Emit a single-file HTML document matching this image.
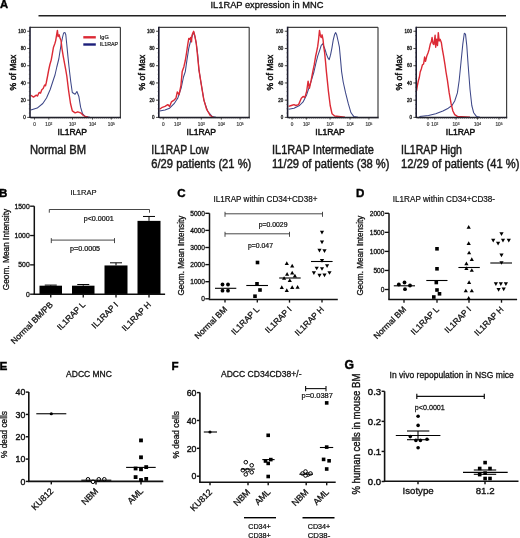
<!DOCTYPE html>
<html><head><meta charset="utf-8"><style>
html,body{margin:0;padding:0;background:#fff;}
body{width:520px;height:538px;overflow:hidden;}
svg{display:block;font-family:"Liberation Sans", sans-serif;will-change:transform;}
</style></head><body>
<svg width="520" height="538" viewBox="0 0 520 538">
<rect width="520" height="538" fill="#fff"/>
<text x="0" y="8.2" font-size="11.2" text-anchor="start" font-weight="bold" fill="#000" stroke="#000" stroke-width="0.381" >A</text>
<text x="267" y="7.6" font-size="9.6" text-anchor="middle" font-weight="normal" fill="#111" stroke="#111" stroke-width="0.326" textLength="113" lengthAdjust="spacingAndGlyphs" >IL1RAP expression in MNC</text>
<line x1="38.5" y1="15.8" x2="506" y2="15.8" stroke="#222" stroke-width="1.4"/>
<polyline points="30.8,110.0 37.2,108.1 42.8,103.5 46.5,98.0 50.2,89.5 53.8,78.5 55.0,75.0 56.8,67.0 58.8,59.0 60.2,50.0 61.2,44.0 62.5,37.5 63.6,33.0 65.0,32.6 65.8,34.8 66.7,43.7 67.9,56.1 68.9,65.8 69.6,72.0 70.8,82.0 72.3,92.5 75.1,94.3 76.9,91.5 78.8,96.2 80.6,107.2 82.5,113.7 85.2,116.5 90.0,117.2" fill="none" stroke="#3d4788" stroke-width="1.05" stroke-linejoin="round"/>
<polyline points="30.8,95.2 33.5,97.1 36.3,95.2 37.5,96.0 39.1,92.5 40.5,93.2 41.8,89.7 43.2,88.5 44.6,85.1 45.5,85.8 46.3,82.5 47.5,76.5 48.7,70.0 49.9,64.5 51.2,60.1 52.1,55.2 53.5,47.2 54.8,43.7 55.7,40.6 56.5,35.7 57.4,30.4 58.1,36.6 59.2,34.8 60.1,38.4 61.0,40.2 61.9,48.1 63.2,56.1 64.5,63.2 65.8,70.2 66.8,76.0 68.6,90.6 70.5,103.5 72.3,110.9 75.1,112.8 77.8,111.8 80.6,112.8 83.4,115.5 85.2,116.5 88.0,117.2" fill="none" stroke="#dc2a35" stroke-width="1.4" stroke-linejoin="round"/>
<line x1="30.0" y1="27.3" x2="120.4" y2="27.3" stroke="#404040" stroke-width="1.2"/>
<line x1="120.4" y1="27.3" x2="120.4" y2="117.4" stroke="#404040" stroke-width="1.2"/>
<line x1="30.0" y1="26.7" x2="30.0" y2="118.10000000000001" stroke="#1c1c30" stroke-width="1.6"/>
<line x1="30.0" y1="117.4" x2="121.0" y2="117.4" stroke="#1c1c28" stroke-width="1.5"/>
<line x1="27.2" y1="31.25" x2="30.0" y2="31.25" stroke="#222" stroke-width="0.8"/>
<text x="25.7" y="32.85" font-size="4.5" text-anchor="end" font-weight="normal" fill="#222" stroke="#222" stroke-width="0.3" >100</text>
<line x1="27.2" y1="48.480000000000004" x2="30.0" y2="48.480000000000004" stroke="#222" stroke-width="0.8"/>
<text x="25.7" y="50.080000000000005" font-size="4.5" text-anchor="end" font-weight="normal" fill="#222" stroke="#222" stroke-width="0.3" >80</text>
<line x1="27.2" y1="65.71000000000001" x2="30.0" y2="65.71000000000001" stroke="#222" stroke-width="0.8"/>
<text x="25.7" y="67.31" font-size="4.5" text-anchor="end" font-weight="normal" fill="#222" stroke="#222" stroke-width="0.3" >60</text>
<line x1="27.2" y1="82.94" x2="30.0" y2="82.94" stroke="#222" stroke-width="0.8"/>
<text x="25.7" y="84.53999999999999" font-size="4.5" text-anchor="end" font-weight="normal" fill="#222" stroke="#222" stroke-width="0.3" >40</text>
<line x1="27.2" y1="100.17" x2="30.0" y2="100.17" stroke="#222" stroke-width="0.8"/>
<text x="25.7" y="101.77" font-size="4.5" text-anchor="end" font-weight="normal" fill="#222" stroke="#222" stroke-width="0.3" >20</text>
<line x1="27.2" y1="117.4" x2="30.0" y2="117.4" stroke="#222" stroke-width="0.8"/>
<text x="25.7" y="119.0" font-size="4.5" text-anchor="end" font-weight="normal" fill="#222" stroke="#222" stroke-width="0.3" >0</text>
<line x1="28.8" y1="117.4" x2="30.0" y2="117.4" stroke="#333" stroke-width="0.5"/>
<line x1="28.8" y1="113.0925" x2="30.0" y2="113.0925" stroke="#333" stroke-width="0.5"/>
<line x1="28.8" y1="108.78500000000001" x2="30.0" y2="108.78500000000001" stroke="#333" stroke-width="0.5"/>
<line x1="28.8" y1="104.4775" x2="30.0" y2="104.4775" stroke="#333" stroke-width="0.5"/>
<line x1="28.8" y1="100.17" x2="30.0" y2="100.17" stroke="#333" stroke-width="0.5"/>
<line x1="28.8" y1="95.86250000000001" x2="30.0" y2="95.86250000000001" stroke="#333" stroke-width="0.5"/>
<line x1="28.8" y1="91.555" x2="30.0" y2="91.555" stroke="#333" stroke-width="0.5"/>
<line x1="28.8" y1="87.2475" x2="30.0" y2="87.2475" stroke="#333" stroke-width="0.5"/>
<line x1="28.8" y1="82.94" x2="30.0" y2="82.94" stroke="#333" stroke-width="0.5"/>
<line x1="28.8" y1="78.63250000000001" x2="30.0" y2="78.63250000000001" stroke="#333" stroke-width="0.5"/>
<line x1="28.8" y1="74.325" x2="30.0" y2="74.325" stroke="#333" stroke-width="0.5"/>
<line x1="28.8" y1="70.0175" x2="30.0" y2="70.0175" stroke="#333" stroke-width="0.5"/>
<line x1="28.8" y1="65.71" x2="30.0" y2="65.71" stroke="#333" stroke-width="0.5"/>
<line x1="28.8" y1="61.4025" x2="30.0" y2="61.4025" stroke="#333" stroke-width="0.5"/>
<line x1="28.8" y1="57.095" x2="30.0" y2="57.095" stroke="#333" stroke-width="0.5"/>
<line x1="28.8" y1="52.78750000000001" x2="30.0" y2="52.78750000000001" stroke="#333" stroke-width="0.5"/>
<line x1="28.8" y1="48.480000000000004" x2="30.0" y2="48.480000000000004" stroke="#333" stroke-width="0.5"/>
<line x1="28.8" y1="44.1725" x2="30.0" y2="44.1725" stroke="#333" stroke-width="0.5"/>
<line x1="28.8" y1="39.86500000000001" x2="30.0" y2="39.86500000000001" stroke="#333" stroke-width="0.5"/>
<line x1="28.8" y1="35.557500000000005" x2="30.0" y2="35.557500000000005" stroke="#333" stroke-width="0.5"/>
<line x1="28.8" y1="31.25" x2="30.0" y2="31.25" stroke="#333" stroke-width="0.5"/>
<line x1="34.5" y1="117.4" x2="34.5" y2="119.60000000000001" stroke="#222" stroke-width="0.8"/>
<text x="34.5" y="126.4" font-size="4.7" text-anchor="middle" font-weight="normal" fill="#444" stroke="#444" stroke-width="0.2" >0</text>
<line x1="48.8" y1="117.4" x2="48.8" y2="119.60000000000001" stroke="#222" stroke-width="0.8"/>
<text x="48.8" y="126.4" font-size="4.7" text-anchor="middle" font-weight="normal" fill="#444" stroke="#444" stroke-width="0.2" >10<tspan dy="-1.5" font-size="3.2">2</tspan></text>
<line x1="72.5" y1="117.4" x2="72.5" y2="119.60000000000001" stroke="#222" stroke-width="0.8"/>
<text x="72.5" y="126.4" font-size="4.7" text-anchor="middle" font-weight="normal" fill="#444" stroke="#444" stroke-width="0.2" >10<tspan dy="-1.5" font-size="3.2">3</tspan></text>
<line x1="92.5" y1="117.4" x2="92.5" y2="119.60000000000001" stroke="#222" stroke-width="0.8"/>
<text x="92.5" y="126.4" font-size="4.7" text-anchor="middle" font-weight="normal" fill="#444" stroke="#444" stroke-width="0.2" >10<tspan dy="-1.5" font-size="3.2">4</tspan></text>
<line x1="111.3" y1="117.4" x2="111.3" y2="119.60000000000001" stroke="#222" stroke-width="0.8"/>
<text x="111.3" y="126.4" font-size="4.7" text-anchor="middle" font-weight="normal" fill="#444" stroke="#444" stroke-width="0.2" >10<tspan dy="-1.5" font-size="3.2">5</tspan></text>
<line x1="32.0" y1="117.4" x2="32.0" y2="119.0" stroke="#444" stroke-width="0.5"/>
<line x1="34.00909090909091" y1="117.4" x2="34.00909090909091" y2="119.0" stroke="#444" stroke-width="0.5"/>
<line x1="36.018181818181816" y1="117.4" x2="36.018181818181816" y2="119.0" stroke="#444" stroke-width="0.5"/>
<line x1="38.02727272727273" y1="117.4" x2="38.02727272727273" y2="119.0" stroke="#444" stroke-width="0.5"/>
<line x1="40.03636363636364" y1="117.4" x2="40.03636363636364" y2="119.0" stroke="#444" stroke-width="0.5"/>
<line x1="42.04545454545455" y1="117.4" x2="42.04545454545455" y2="119.0" stroke="#444" stroke-width="0.5"/>
<line x1="44.054545454545455" y1="117.4" x2="44.054545454545455" y2="119.0" stroke="#444" stroke-width="0.5"/>
<line x1="46.06363636363636" y1="117.4" x2="46.06363636363636" y2="119.0" stroke="#444" stroke-width="0.5"/>
<line x1="48.07272727272728" y1="117.4" x2="48.07272727272728" y2="119.0" stroke="#444" stroke-width="0.5"/>
<line x1="50.08181818181818" y1="117.4" x2="50.08181818181818" y2="119.0" stroke="#444" stroke-width="0.5"/>
<line x1="52.09090909090909" y1="117.4" x2="52.09090909090909" y2="119.0" stroke="#444" stroke-width="0.5"/>
<line x1="54.1" y1="117.4" x2="54.1" y2="119.0" stroke="#444" stroke-width="0.5"/>
<line x1="56.10909090909091" y1="117.4" x2="56.10909090909091" y2="119.0" stroke="#444" stroke-width="0.5"/>
<line x1="58.118181818181824" y1="117.4" x2="58.118181818181824" y2="119.0" stroke="#444" stroke-width="0.5"/>
<line x1="60.127272727272725" y1="117.4" x2="60.127272727272725" y2="119.0" stroke="#444" stroke-width="0.5"/>
<line x1="62.13636363636364" y1="117.4" x2="62.13636363636364" y2="119.0" stroke="#444" stroke-width="0.5"/>
<line x1="64.14545454545456" y1="117.4" x2="64.14545454545456" y2="119.0" stroke="#444" stroke-width="0.5"/>
<line x1="66.15454545454546" y1="117.4" x2="66.15454545454546" y2="119.0" stroke="#444" stroke-width="0.5"/>
<line x1="68.16363636363636" y1="117.4" x2="68.16363636363636" y2="119.0" stroke="#444" stroke-width="0.5"/>
<line x1="70.17272727272729" y1="117.4" x2="70.17272727272729" y2="119.0" stroke="#444" stroke-width="0.5"/>
<line x1="72.18181818181819" y1="117.4" x2="72.18181818181819" y2="119.0" stroke="#444" stroke-width="0.5"/>
<line x1="74.19090909090909" y1="117.4" x2="74.19090909090909" y2="119.0" stroke="#444" stroke-width="0.5"/>
<line x1="76.2" y1="117.4" x2="76.2" y2="119.0" stroke="#444" stroke-width="0.5"/>
<line x1="78.20909090909092" y1="117.4" x2="78.20909090909092" y2="119.0" stroke="#444" stroke-width="0.5"/>
<line x1="80.21818181818182" y1="117.4" x2="80.21818181818182" y2="119.0" stroke="#444" stroke-width="0.5"/>
<line x1="82.22727272727272" y1="117.4" x2="82.22727272727272" y2="119.0" stroke="#444" stroke-width="0.5"/>
<line x1="84.23636363636365" y1="117.4" x2="84.23636363636365" y2="119.0" stroke="#444" stroke-width="0.5"/>
<line x1="86.24545454545455" y1="117.4" x2="86.24545454545455" y2="119.0" stroke="#444" stroke-width="0.5"/>
<line x1="88.25454545454545" y1="117.4" x2="88.25454545454545" y2="119.0" stroke="#444" stroke-width="0.5"/>
<line x1="90.26363636363638" y1="117.4" x2="90.26363636363638" y2="119.0" stroke="#444" stroke-width="0.5"/>
<line x1="92.27272727272728" y1="117.4" x2="92.27272727272728" y2="119.0" stroke="#444" stroke-width="0.5"/>
<line x1="94.28181818181818" y1="117.4" x2="94.28181818181818" y2="119.0" stroke="#444" stroke-width="0.5"/>
<line x1="96.2909090909091" y1="117.4" x2="96.2909090909091" y2="119.0" stroke="#444" stroke-width="0.5"/>
<line x1="98.30000000000001" y1="117.4" x2="98.30000000000001" y2="119.0" stroke="#444" stroke-width="0.5"/>
<line x1="100.30909090909091" y1="117.4" x2="100.30909090909091" y2="119.0" stroke="#444" stroke-width="0.5"/>
<line x1="102.31818181818181" y1="117.4" x2="102.31818181818181" y2="119.0" stroke="#444" stroke-width="0.5"/>
<line x1="104.32727272727273" y1="117.4" x2="104.32727272727273" y2="119.0" stroke="#444" stroke-width="0.5"/>
<line x1="106.33636363636364" y1="117.4" x2="106.33636363636364" y2="119.0" stroke="#444" stroke-width="0.5"/>
<line x1="108.34545454545456" y1="117.4" x2="108.34545454545456" y2="119.0" stroke="#444" stroke-width="0.5"/>
<line x1="110.35454545454546" y1="117.4" x2="110.35454545454546" y2="119.0" stroke="#444" stroke-width="0.5"/>
<line x1="112.36363636363636" y1="117.4" x2="112.36363636363636" y2="119.0" stroke="#444" stroke-width="0.5"/>
<line x1="114.37272727272727" y1="117.4" x2="114.37272727272727" y2="119.0" stroke="#444" stroke-width="0.5"/>
<line x1="116.38181818181819" y1="117.4" x2="116.38181818181819" y2="119.0" stroke="#444" stroke-width="0.5"/>
<line x1="118.39090909090909" y1="117.4" x2="118.39090909090909" y2="119.0" stroke="#444" stroke-width="0.5"/>
<line x1="120.4" y1="117.4" x2="120.4" y2="119.0" stroke="#444" stroke-width="0.5"/>
<text x="12.7" y="72.5" font-size="8.6" text-anchor="middle" fill="#111" stroke="#111" stroke-width="0.45" transform="rotate(-90 12.7 72.5)" dy="3">% of Max</text>
<text x="72.25" y="134.5" font-size="9.3" text-anchor="middle" font-weight="normal" fill="#111" stroke="#111" stroke-width="0.5" textLength="29.5" lengthAdjust="spacingAndGlyphs" >IL1RAP</text>
<text x="30" y="154.0" font-size="12.0" text-anchor="start" font-weight="normal" fill="#1a1a1a" stroke="#1a1a1a" stroke-width="0.45" textLength="56" lengthAdjust="spacingAndGlyphs" >Normal BM</text>
<polyline points="159.6,111.0 165.0,110.1 169.6,108.2 174.1,103.7 177.7,98.3 181.3,87.5 183.5,77.0 185.3,71.6 187.0,59.6 188.8,48.1 190.6,41.0 192.4,35.7 193.7,32.2 195.0,36.6 196.3,43.7 197.7,54.3 199.0,70.2 201.2,84.0 203.9,100.1 207.5,111.0 212.0,116.4 216.0,117.2" fill="none" stroke="#3d4788" stroke-width="1.05" stroke-linejoin="round"/>
<polyline points="159.6,109.2 162.3,107.3 165.0,106.4 167.8,104.6 169.6,106.4 171.4,101.9 174.1,100.1 175.9,98.3 177.3,92.0 179.1,94.7 180.9,85.7 182.2,71.6 183.9,66.7 185.3,60.5 186.6,52.5 187.9,43.7 188.8,38.4 189.7,39.3 190.6,37.5 191.5,41.9 191.9,35.7 192.8,33.1 193.7,31.3 194.6,34.8 195.5,39.3 196.3,43.7 197.2,52.5 198.1,61.4 199.0,70.2 200.3,78.4 202.1,89.3 203.9,100.1 206.6,109.2 210.2,115.5 213.0,117.2" fill="none" stroke="#dc2a35" stroke-width="1.4" stroke-linejoin="round"/>
<line x1="158.8" y1="27.3" x2="249.20000000000002" y2="27.3" stroke="#404040" stroke-width="1.2"/>
<line x1="249.20000000000002" y1="27.3" x2="249.20000000000002" y2="117.4" stroke="#404040" stroke-width="1.2"/>
<line x1="158.8" y1="26.7" x2="158.8" y2="118.10000000000001" stroke="#1c1c30" stroke-width="1.6"/>
<line x1="158.8" y1="117.4" x2="249.8" y2="117.4" stroke="#1c1c28" stroke-width="1.5"/>
<line x1="156.0" y1="31.25" x2="158.8" y2="31.25" stroke="#222" stroke-width="0.8"/>
<text x="154.5" y="32.85" font-size="4.5" text-anchor="end" font-weight="normal" fill="#222" stroke="#222" stroke-width="0.3" >100</text>
<line x1="156.0" y1="48.480000000000004" x2="158.8" y2="48.480000000000004" stroke="#222" stroke-width="0.8"/>
<text x="154.5" y="50.080000000000005" font-size="4.5" text-anchor="end" font-weight="normal" fill="#222" stroke="#222" stroke-width="0.3" >80</text>
<line x1="156.0" y1="65.71000000000001" x2="158.8" y2="65.71000000000001" stroke="#222" stroke-width="0.8"/>
<text x="154.5" y="67.31" font-size="4.5" text-anchor="end" font-weight="normal" fill="#222" stroke="#222" stroke-width="0.3" >60</text>
<line x1="156.0" y1="82.94" x2="158.8" y2="82.94" stroke="#222" stroke-width="0.8"/>
<text x="154.5" y="84.53999999999999" font-size="4.5" text-anchor="end" font-weight="normal" fill="#222" stroke="#222" stroke-width="0.3" >40</text>
<line x1="156.0" y1="100.17" x2="158.8" y2="100.17" stroke="#222" stroke-width="0.8"/>
<text x="154.5" y="101.77" font-size="4.5" text-anchor="end" font-weight="normal" fill="#222" stroke="#222" stroke-width="0.3" >20</text>
<line x1="156.0" y1="117.4" x2="158.8" y2="117.4" stroke="#222" stroke-width="0.8"/>
<text x="154.5" y="119.0" font-size="4.5" text-anchor="end" font-weight="normal" fill="#222" stroke="#222" stroke-width="0.3" >0</text>
<line x1="157.60000000000002" y1="117.4" x2="158.8" y2="117.4" stroke="#333" stroke-width="0.5"/>
<line x1="157.60000000000002" y1="113.0925" x2="158.8" y2="113.0925" stroke="#333" stroke-width="0.5"/>
<line x1="157.60000000000002" y1="108.78500000000001" x2="158.8" y2="108.78500000000001" stroke="#333" stroke-width="0.5"/>
<line x1="157.60000000000002" y1="104.4775" x2="158.8" y2="104.4775" stroke="#333" stroke-width="0.5"/>
<line x1="157.60000000000002" y1="100.17" x2="158.8" y2="100.17" stroke="#333" stroke-width="0.5"/>
<line x1="157.60000000000002" y1="95.86250000000001" x2="158.8" y2="95.86250000000001" stroke="#333" stroke-width="0.5"/>
<line x1="157.60000000000002" y1="91.555" x2="158.8" y2="91.555" stroke="#333" stroke-width="0.5"/>
<line x1="157.60000000000002" y1="87.2475" x2="158.8" y2="87.2475" stroke="#333" stroke-width="0.5"/>
<line x1="157.60000000000002" y1="82.94" x2="158.8" y2="82.94" stroke="#333" stroke-width="0.5"/>
<line x1="157.60000000000002" y1="78.63250000000001" x2="158.8" y2="78.63250000000001" stroke="#333" stroke-width="0.5"/>
<line x1="157.60000000000002" y1="74.325" x2="158.8" y2="74.325" stroke="#333" stroke-width="0.5"/>
<line x1="157.60000000000002" y1="70.0175" x2="158.8" y2="70.0175" stroke="#333" stroke-width="0.5"/>
<line x1="157.60000000000002" y1="65.71" x2="158.8" y2="65.71" stroke="#333" stroke-width="0.5"/>
<line x1="157.60000000000002" y1="61.4025" x2="158.8" y2="61.4025" stroke="#333" stroke-width="0.5"/>
<line x1="157.60000000000002" y1="57.095" x2="158.8" y2="57.095" stroke="#333" stroke-width="0.5"/>
<line x1="157.60000000000002" y1="52.78750000000001" x2="158.8" y2="52.78750000000001" stroke="#333" stroke-width="0.5"/>
<line x1="157.60000000000002" y1="48.480000000000004" x2="158.8" y2="48.480000000000004" stroke="#333" stroke-width="0.5"/>
<line x1="157.60000000000002" y1="44.1725" x2="158.8" y2="44.1725" stroke="#333" stroke-width="0.5"/>
<line x1="157.60000000000002" y1="39.86500000000001" x2="158.8" y2="39.86500000000001" stroke="#333" stroke-width="0.5"/>
<line x1="157.60000000000002" y1="35.557500000000005" x2="158.8" y2="35.557500000000005" stroke="#333" stroke-width="0.5"/>
<line x1="157.60000000000002" y1="31.25" x2="158.8" y2="31.25" stroke="#333" stroke-width="0.5"/>
<line x1="163.3" y1="117.4" x2="163.3" y2="119.60000000000001" stroke="#222" stroke-width="0.8"/>
<text x="163.3" y="126.4" font-size="4.7" text-anchor="middle" font-weight="normal" fill="#444" stroke="#444" stroke-width="0.2" >0</text>
<line x1="177.60000000000002" y1="117.4" x2="177.60000000000002" y2="119.60000000000001" stroke="#222" stroke-width="0.8"/>
<text x="177.60000000000002" y="126.4" font-size="4.7" text-anchor="middle" font-weight="normal" fill="#444" stroke="#444" stroke-width="0.2" >10<tspan dy="-1.5" font-size="3.2">2</tspan></text>
<line x1="201.3" y1="117.4" x2="201.3" y2="119.60000000000001" stroke="#222" stroke-width="0.8"/>
<text x="201.3" y="126.4" font-size="4.7" text-anchor="middle" font-weight="normal" fill="#444" stroke="#444" stroke-width="0.2" >10<tspan dy="-1.5" font-size="3.2">3</tspan></text>
<line x1="221.3" y1="117.4" x2="221.3" y2="119.60000000000001" stroke="#222" stroke-width="0.8"/>
<text x="221.3" y="126.4" font-size="4.7" text-anchor="middle" font-weight="normal" fill="#444" stroke="#444" stroke-width="0.2" >10<tspan dy="-1.5" font-size="3.2">4</tspan></text>
<line x1="240.10000000000002" y1="117.4" x2="240.10000000000002" y2="119.60000000000001" stroke="#222" stroke-width="0.8"/>
<text x="240.10000000000002" y="126.4" font-size="4.7" text-anchor="middle" font-weight="normal" fill="#444" stroke="#444" stroke-width="0.2" >10<tspan dy="-1.5" font-size="3.2">5</tspan></text>
<line x1="160.8" y1="117.4" x2="160.8" y2="119.0" stroke="#444" stroke-width="0.5"/>
<line x1="162.8090909090909" y1="117.4" x2="162.8090909090909" y2="119.0" stroke="#444" stroke-width="0.5"/>
<line x1="164.81818181818184" y1="117.4" x2="164.81818181818184" y2="119.0" stroke="#444" stroke-width="0.5"/>
<line x1="166.82727272727274" y1="117.4" x2="166.82727272727274" y2="119.0" stroke="#444" stroke-width="0.5"/>
<line x1="168.83636363636364" y1="117.4" x2="168.83636363636364" y2="119.0" stroke="#444" stroke-width="0.5"/>
<line x1="170.84545454545454" y1="117.4" x2="170.84545454545454" y2="119.0" stroke="#444" stroke-width="0.5"/>
<line x1="172.85454545454547" y1="117.4" x2="172.85454545454547" y2="119.0" stroke="#444" stroke-width="0.5"/>
<line x1="174.86363636363637" y1="117.4" x2="174.86363636363637" y2="119.0" stroke="#444" stroke-width="0.5"/>
<line x1="176.87272727272727" y1="117.4" x2="176.87272727272727" y2="119.0" stroke="#444" stroke-width="0.5"/>
<line x1="178.8818181818182" y1="117.4" x2="178.8818181818182" y2="119.0" stroke="#444" stroke-width="0.5"/>
<line x1="180.8909090909091" y1="117.4" x2="180.8909090909091" y2="119.0" stroke="#444" stroke-width="0.5"/>
<line x1="182.9" y1="117.4" x2="182.9" y2="119.0" stroke="#444" stroke-width="0.5"/>
<line x1="184.90909090909093" y1="117.4" x2="184.90909090909093" y2="119.0" stroke="#444" stroke-width="0.5"/>
<line x1="186.91818181818184" y1="117.4" x2="186.91818181818184" y2="119.0" stroke="#444" stroke-width="0.5"/>
<line x1="188.92727272727274" y1="117.4" x2="188.92727272727274" y2="119.0" stroke="#444" stroke-width="0.5"/>
<line x1="190.93636363636364" y1="117.4" x2="190.93636363636364" y2="119.0" stroke="#444" stroke-width="0.5"/>
<line x1="192.94545454545457" y1="117.4" x2="192.94545454545457" y2="119.0" stroke="#444" stroke-width="0.5"/>
<line x1="194.95454545454547" y1="117.4" x2="194.95454545454547" y2="119.0" stroke="#444" stroke-width="0.5"/>
<line x1="196.96363636363637" y1="117.4" x2="196.96363636363637" y2="119.0" stroke="#444" stroke-width="0.5"/>
<line x1="198.9727272727273" y1="117.4" x2="198.9727272727273" y2="119.0" stroke="#444" stroke-width="0.5"/>
<line x1="200.9818181818182" y1="117.4" x2="200.9818181818182" y2="119.0" stroke="#444" stroke-width="0.5"/>
<line x1="202.9909090909091" y1="117.4" x2="202.9909090909091" y2="119.0" stroke="#444" stroke-width="0.5"/>
<line x1="205.0" y1="117.4" x2="205.0" y2="119.0" stroke="#444" stroke-width="0.5"/>
<line x1="207.00909090909093" y1="117.4" x2="207.00909090909093" y2="119.0" stroke="#444" stroke-width="0.5"/>
<line x1="209.01818181818183" y1="117.4" x2="209.01818181818183" y2="119.0" stroke="#444" stroke-width="0.5"/>
<line x1="211.02727272727273" y1="117.4" x2="211.02727272727273" y2="119.0" stroke="#444" stroke-width="0.5"/>
<line x1="213.03636363636366" y1="117.4" x2="213.03636363636366" y2="119.0" stroke="#444" stroke-width="0.5"/>
<line x1="215.04545454545456" y1="117.4" x2="215.04545454545456" y2="119.0" stroke="#444" stroke-width="0.5"/>
<line x1="217.05454545454546" y1="117.4" x2="217.05454545454546" y2="119.0" stroke="#444" stroke-width="0.5"/>
<line x1="219.0636363636364" y1="117.4" x2="219.0636363636364" y2="119.0" stroke="#444" stroke-width="0.5"/>
<line x1="221.0727272727273" y1="117.4" x2="221.0727272727273" y2="119.0" stroke="#444" stroke-width="0.5"/>
<line x1="223.0818181818182" y1="117.4" x2="223.0818181818182" y2="119.0" stroke="#444" stroke-width="0.5"/>
<line x1="225.09090909090912" y1="117.4" x2="225.09090909090912" y2="119.0" stroke="#444" stroke-width="0.5"/>
<line x1="227.10000000000002" y1="117.4" x2="227.10000000000002" y2="119.0" stroke="#444" stroke-width="0.5"/>
<line x1="229.10909090909092" y1="117.4" x2="229.10909090909092" y2="119.0" stroke="#444" stroke-width="0.5"/>
<line x1="231.11818181818182" y1="117.4" x2="231.11818181818182" y2="119.0" stroke="#444" stroke-width="0.5"/>
<line x1="233.12727272727273" y1="117.4" x2="233.12727272727273" y2="119.0" stroke="#444" stroke-width="0.5"/>
<line x1="235.13636363636365" y1="117.4" x2="235.13636363636365" y2="119.0" stroke="#444" stroke-width="0.5"/>
<line x1="237.14545454545458" y1="117.4" x2="237.14545454545458" y2="119.0" stroke="#444" stroke-width="0.5"/>
<line x1="239.15454545454548" y1="117.4" x2="239.15454545454548" y2="119.0" stroke="#444" stroke-width="0.5"/>
<line x1="241.16363636363639" y1="117.4" x2="241.16363636363639" y2="119.0" stroke="#444" stroke-width="0.5"/>
<line x1="243.1727272727273" y1="117.4" x2="243.1727272727273" y2="119.0" stroke="#444" stroke-width="0.5"/>
<line x1="245.1818181818182" y1="117.4" x2="245.1818181818182" y2="119.0" stroke="#444" stroke-width="0.5"/>
<line x1="247.1909090909091" y1="117.4" x2="247.1909090909091" y2="119.0" stroke="#444" stroke-width="0.5"/>
<line x1="249.20000000000002" y1="117.4" x2="249.20000000000002" y2="119.0" stroke="#444" stroke-width="0.5"/>
<text x="141.5" y="72.5" font-size="8.6" text-anchor="middle" fill="#111" stroke="#111" stroke-width="0.45" transform="rotate(-90 141.5 72.5)" dy="3">% of Max</text>
<text x="201.25" y="134.5" font-size="9.3" text-anchor="middle" font-weight="normal" fill="#111" stroke="#111" stroke-width="0.5" textLength="29.5" lengthAdjust="spacingAndGlyphs" >IL1RAP</text>
<text x="151.3" y="154.0" font-size="12.0" text-anchor="start" font-weight="normal" fill="#1a1a1a" stroke="#1a1a1a" stroke-width="0.45" textLength="57.5" lengthAdjust="spacingAndGlyphs" >IL1RAP Low</text>
<text x="151.3" y="168.4" font-size="12.0" text-anchor="start" font-weight="normal" fill="#1a1a1a" stroke="#1a1a1a" stroke-width="0.45" textLength="100" lengthAdjust="spacingAndGlyphs" >6/29 patients (21 %)</text>
<polyline points="288.6,109.2 294.0,108.2 299.5,105.5 303.1,101.9 306.7,94.7 310.3,83.8 313.9,72.0 315.9,63.2 317.7,56.1 319.5,50.8 321.2,45.5 322.8,43.7 323.9,46.4 325.2,49.9 326.5,54.3 327.9,57.9 329.2,59.6 330.5,55.2 331.9,48.1 333.2,40.2 334.5,34.8 335.6,32.6 336.7,34.8 338.1,41.0 339.4,47.2 340.7,61.4 341.6,71.6 343.2,82.0 345.6,92.9 348.3,103.7 351.0,112.8 353.7,116.4 358.0,117.2" fill="none" stroke="#3d4788" stroke-width="1.05" stroke-linejoin="round"/>
<polyline points="288.6,106.4 291.3,105.5 294.0,104.6 295.8,105.5 298.6,104.6 301.3,98.3 303.1,96.5 304.9,97.4 306.7,91.1 308.1,81.1 309.4,88.4 311.2,80.2 312.8,71.6 314.2,64.9 315.5,57.0 316.8,50.8 317.7,46.4 318.6,39.3 319.5,30.4 320.4,35.7 321.2,37.5 322.1,34.8 323.0,39.3 323.7,46.4 324.6,52.5 325.5,61.4 326.4,71.6 328.4,91.1 330.2,105.5 332.0,113.7 334.7,116.0 345.0,117.2" fill="none" stroke="#dc2a35" stroke-width="1.4" stroke-linejoin="round"/>
<line x1="287.6" y1="27.3" x2="378.0" y2="27.3" stroke="#404040" stroke-width="1.2"/>
<line x1="378.0" y1="27.3" x2="378.0" y2="117.4" stroke="#404040" stroke-width="1.2"/>
<line x1="287.6" y1="26.7" x2="287.6" y2="118.10000000000001" stroke="#1c1c30" stroke-width="1.6"/>
<line x1="287.6" y1="117.4" x2="378.6" y2="117.4" stroke="#1c1c28" stroke-width="1.5"/>
<line x1="284.8" y1="31.25" x2="287.6" y2="31.25" stroke="#222" stroke-width="0.8"/>
<text x="283.3" y="32.85" font-size="4.5" text-anchor="end" font-weight="normal" fill="#222" stroke="#222" stroke-width="0.3" >100</text>
<line x1="284.8" y1="48.480000000000004" x2="287.6" y2="48.480000000000004" stroke="#222" stroke-width="0.8"/>
<text x="283.3" y="50.080000000000005" font-size="4.5" text-anchor="end" font-weight="normal" fill="#222" stroke="#222" stroke-width="0.3" >80</text>
<line x1="284.8" y1="65.71000000000001" x2="287.6" y2="65.71000000000001" stroke="#222" stroke-width="0.8"/>
<text x="283.3" y="67.31" font-size="4.5" text-anchor="end" font-weight="normal" fill="#222" stroke="#222" stroke-width="0.3" >60</text>
<line x1="284.8" y1="82.94" x2="287.6" y2="82.94" stroke="#222" stroke-width="0.8"/>
<text x="283.3" y="84.53999999999999" font-size="4.5" text-anchor="end" font-weight="normal" fill="#222" stroke="#222" stroke-width="0.3" >40</text>
<line x1="284.8" y1="100.17" x2="287.6" y2="100.17" stroke="#222" stroke-width="0.8"/>
<text x="283.3" y="101.77" font-size="4.5" text-anchor="end" font-weight="normal" fill="#222" stroke="#222" stroke-width="0.3" >20</text>
<line x1="284.8" y1="117.4" x2="287.6" y2="117.4" stroke="#222" stroke-width="0.8"/>
<text x="283.3" y="119.0" font-size="4.5" text-anchor="end" font-weight="normal" fill="#222" stroke="#222" stroke-width="0.3" >0</text>
<line x1="286.40000000000003" y1="117.4" x2="287.6" y2="117.4" stroke="#333" stroke-width="0.5"/>
<line x1="286.40000000000003" y1="113.0925" x2="287.6" y2="113.0925" stroke="#333" stroke-width="0.5"/>
<line x1="286.40000000000003" y1="108.78500000000001" x2="287.6" y2="108.78500000000001" stroke="#333" stroke-width="0.5"/>
<line x1="286.40000000000003" y1="104.4775" x2="287.6" y2="104.4775" stroke="#333" stroke-width="0.5"/>
<line x1="286.40000000000003" y1="100.17" x2="287.6" y2="100.17" stroke="#333" stroke-width="0.5"/>
<line x1="286.40000000000003" y1="95.86250000000001" x2="287.6" y2="95.86250000000001" stroke="#333" stroke-width="0.5"/>
<line x1="286.40000000000003" y1="91.555" x2="287.6" y2="91.555" stroke="#333" stroke-width="0.5"/>
<line x1="286.40000000000003" y1="87.2475" x2="287.6" y2="87.2475" stroke="#333" stroke-width="0.5"/>
<line x1="286.40000000000003" y1="82.94" x2="287.6" y2="82.94" stroke="#333" stroke-width="0.5"/>
<line x1="286.40000000000003" y1="78.63250000000001" x2="287.6" y2="78.63250000000001" stroke="#333" stroke-width="0.5"/>
<line x1="286.40000000000003" y1="74.325" x2="287.6" y2="74.325" stroke="#333" stroke-width="0.5"/>
<line x1="286.40000000000003" y1="70.0175" x2="287.6" y2="70.0175" stroke="#333" stroke-width="0.5"/>
<line x1="286.40000000000003" y1="65.71" x2="287.6" y2="65.71" stroke="#333" stroke-width="0.5"/>
<line x1="286.40000000000003" y1="61.4025" x2="287.6" y2="61.4025" stroke="#333" stroke-width="0.5"/>
<line x1="286.40000000000003" y1="57.095" x2="287.6" y2="57.095" stroke="#333" stroke-width="0.5"/>
<line x1="286.40000000000003" y1="52.78750000000001" x2="287.6" y2="52.78750000000001" stroke="#333" stroke-width="0.5"/>
<line x1="286.40000000000003" y1="48.480000000000004" x2="287.6" y2="48.480000000000004" stroke="#333" stroke-width="0.5"/>
<line x1="286.40000000000003" y1="44.1725" x2="287.6" y2="44.1725" stroke="#333" stroke-width="0.5"/>
<line x1="286.40000000000003" y1="39.86500000000001" x2="287.6" y2="39.86500000000001" stroke="#333" stroke-width="0.5"/>
<line x1="286.40000000000003" y1="35.557500000000005" x2="287.6" y2="35.557500000000005" stroke="#333" stroke-width="0.5"/>
<line x1="286.40000000000003" y1="31.25" x2="287.6" y2="31.25" stroke="#333" stroke-width="0.5"/>
<line x1="292.1" y1="117.4" x2="292.1" y2="119.60000000000001" stroke="#222" stroke-width="0.8"/>
<text x="292.1" y="126.4" font-size="4.7" text-anchor="middle" font-weight="normal" fill="#444" stroke="#444" stroke-width="0.2" >0</text>
<line x1="306.40000000000003" y1="117.4" x2="306.40000000000003" y2="119.60000000000001" stroke="#222" stroke-width="0.8"/>
<text x="306.40000000000003" y="126.4" font-size="4.7" text-anchor="middle" font-weight="normal" fill="#444" stroke="#444" stroke-width="0.2" >10<tspan dy="-1.5" font-size="3.2">2</tspan></text>
<line x1="330.1" y1="117.4" x2="330.1" y2="119.60000000000001" stroke="#222" stroke-width="0.8"/>
<text x="330.1" y="126.4" font-size="4.7" text-anchor="middle" font-weight="normal" fill="#444" stroke="#444" stroke-width="0.2" >10<tspan dy="-1.5" font-size="3.2">3</tspan></text>
<line x1="350.1" y1="117.4" x2="350.1" y2="119.60000000000001" stroke="#222" stroke-width="0.8"/>
<text x="350.1" y="126.4" font-size="4.7" text-anchor="middle" font-weight="normal" fill="#444" stroke="#444" stroke-width="0.2" >10<tspan dy="-1.5" font-size="3.2">4</tspan></text>
<line x1="368.90000000000003" y1="117.4" x2="368.90000000000003" y2="119.60000000000001" stroke="#222" stroke-width="0.8"/>
<text x="368.90000000000003" y="126.4" font-size="4.7" text-anchor="middle" font-weight="normal" fill="#444" stroke="#444" stroke-width="0.2" >10<tspan dy="-1.5" font-size="3.2">5</tspan></text>
<line x1="289.6" y1="117.4" x2="289.6" y2="119.0" stroke="#444" stroke-width="0.5"/>
<line x1="291.6090909090909" y1="117.4" x2="291.6090909090909" y2="119.0" stroke="#444" stroke-width="0.5"/>
<line x1="293.6181818181818" y1="117.4" x2="293.6181818181818" y2="119.0" stroke="#444" stroke-width="0.5"/>
<line x1="295.6272727272727" y1="117.4" x2="295.6272727272727" y2="119.0" stroke="#444" stroke-width="0.5"/>
<line x1="297.6363636363637" y1="117.4" x2="297.6363636363637" y2="119.0" stroke="#444" stroke-width="0.5"/>
<line x1="299.6454545454546" y1="117.4" x2="299.6454545454546" y2="119.0" stroke="#444" stroke-width="0.5"/>
<line x1="301.6545454545455" y1="117.4" x2="301.6545454545455" y2="119.0" stroke="#444" stroke-width="0.5"/>
<line x1="303.6636363636364" y1="117.4" x2="303.6636363636364" y2="119.0" stroke="#444" stroke-width="0.5"/>
<line x1="305.6727272727273" y1="117.4" x2="305.6727272727273" y2="119.0" stroke="#444" stroke-width="0.5"/>
<line x1="307.6818181818182" y1="117.4" x2="307.6818181818182" y2="119.0" stroke="#444" stroke-width="0.5"/>
<line x1="309.6909090909091" y1="117.4" x2="309.6909090909091" y2="119.0" stroke="#444" stroke-width="0.5"/>
<line x1="311.70000000000005" y1="117.4" x2="311.70000000000005" y2="119.0" stroke="#444" stroke-width="0.5"/>
<line x1="313.70909090909095" y1="117.4" x2="313.70909090909095" y2="119.0" stroke="#444" stroke-width="0.5"/>
<line x1="315.71818181818185" y1="117.4" x2="315.71818181818185" y2="119.0" stroke="#444" stroke-width="0.5"/>
<line x1="317.72727272727275" y1="117.4" x2="317.72727272727275" y2="119.0" stroke="#444" stroke-width="0.5"/>
<line x1="319.73636363636365" y1="117.4" x2="319.73636363636365" y2="119.0" stroke="#444" stroke-width="0.5"/>
<line x1="321.74545454545455" y1="117.4" x2="321.74545454545455" y2="119.0" stroke="#444" stroke-width="0.5"/>
<line x1="323.75454545454545" y1="117.4" x2="323.75454545454545" y2="119.0" stroke="#444" stroke-width="0.5"/>
<line x1="325.76363636363635" y1="117.4" x2="325.76363636363635" y2="119.0" stroke="#444" stroke-width="0.5"/>
<line x1="327.77272727272725" y1="117.4" x2="327.77272727272725" y2="119.0" stroke="#444" stroke-width="0.5"/>
<line x1="329.7818181818182" y1="117.4" x2="329.7818181818182" y2="119.0" stroke="#444" stroke-width="0.5"/>
<line x1="331.7909090909091" y1="117.4" x2="331.7909090909091" y2="119.0" stroke="#444" stroke-width="0.5"/>
<line x1="333.8" y1="117.4" x2="333.8" y2="119.0" stroke="#444" stroke-width="0.5"/>
<line x1="335.8090909090909" y1="117.4" x2="335.8090909090909" y2="119.0" stroke="#444" stroke-width="0.5"/>
<line x1="337.8181818181818" y1="117.4" x2="337.8181818181818" y2="119.0" stroke="#444" stroke-width="0.5"/>
<line x1="339.82727272727277" y1="117.4" x2="339.82727272727277" y2="119.0" stroke="#444" stroke-width="0.5"/>
<line x1="341.83636363636367" y1="117.4" x2="341.83636363636367" y2="119.0" stroke="#444" stroke-width="0.5"/>
<line x1="343.8454545454546" y1="117.4" x2="343.8454545454546" y2="119.0" stroke="#444" stroke-width="0.5"/>
<line x1="345.8545454545455" y1="117.4" x2="345.8545454545455" y2="119.0" stroke="#444" stroke-width="0.5"/>
<line x1="347.8636363636364" y1="117.4" x2="347.8636363636364" y2="119.0" stroke="#444" stroke-width="0.5"/>
<line x1="349.8727272727273" y1="117.4" x2="349.8727272727273" y2="119.0" stroke="#444" stroke-width="0.5"/>
<line x1="351.8818181818182" y1="117.4" x2="351.8818181818182" y2="119.0" stroke="#444" stroke-width="0.5"/>
<line x1="353.8909090909091" y1="117.4" x2="353.8909090909091" y2="119.0" stroke="#444" stroke-width="0.5"/>
<line x1="355.9" y1="117.4" x2="355.9" y2="119.0" stroke="#444" stroke-width="0.5"/>
<line x1="357.90909090909093" y1="117.4" x2="357.90909090909093" y2="119.0" stroke="#444" stroke-width="0.5"/>
<line x1="359.91818181818184" y1="117.4" x2="359.91818181818184" y2="119.0" stroke="#444" stroke-width="0.5"/>
<line x1="361.92727272727274" y1="117.4" x2="361.92727272727274" y2="119.0" stroke="#444" stroke-width="0.5"/>
<line x1="363.93636363636364" y1="117.4" x2="363.93636363636364" y2="119.0" stroke="#444" stroke-width="0.5"/>
<line x1="365.94545454545454" y1="117.4" x2="365.94545454545454" y2="119.0" stroke="#444" stroke-width="0.5"/>
<line x1="367.95454545454544" y1="117.4" x2="367.95454545454544" y2="119.0" stroke="#444" stroke-width="0.5"/>
<line x1="369.9636363636364" y1="117.4" x2="369.9636363636364" y2="119.0" stroke="#444" stroke-width="0.5"/>
<line x1="371.9727272727273" y1="117.4" x2="371.9727272727273" y2="119.0" stroke="#444" stroke-width="0.5"/>
<line x1="373.9818181818182" y1="117.4" x2="373.9818181818182" y2="119.0" stroke="#444" stroke-width="0.5"/>
<line x1="375.9909090909091" y1="117.4" x2="375.9909090909091" y2="119.0" stroke="#444" stroke-width="0.5"/>
<line x1="378.0" y1="117.4" x2="378.0" y2="119.0" stroke="#444" stroke-width="0.5"/>
<text x="270.3" y="72.5" font-size="8.6" text-anchor="middle" fill="#111" stroke="#111" stroke-width="0.45" transform="rotate(-90 270.3 72.5)" dy="3">% of Max</text>
<text x="330" y="134.5" font-size="9.3" text-anchor="middle" font-weight="normal" fill="#111" stroke="#111" stroke-width="0.5" textLength="29.5" lengthAdjust="spacingAndGlyphs" >IL1RAP</text>
<text x="272" y="154.0" font-size="12.0" text-anchor="start" font-weight="normal" fill="#1a1a1a" stroke="#1a1a1a" stroke-width="0.45" textLength="101.8" lengthAdjust="spacingAndGlyphs" >IL1RAP Intermediate</text>
<text x="272" y="168.4" font-size="12.0" text-anchor="start" font-weight="normal" fill="#1a1a1a" stroke="#1a1a1a" stroke-width="0.45" textLength="117.5" lengthAdjust="spacingAndGlyphs" >11/29 of patients (38 %)</text>
<polyline points="419.4,116.4 428.5,115.5 435.7,113.7 442.9,111.0 448.3,108.2 452.0,105.5 454.7,101.0 457.4,92.9 459.2,80.2 461.0,62.2 462.8,44.1 464.3,33.2 465.5,34.1 466.8,45.9 468.2,65.8 470.0,89.3 471.8,105.5 473.7,112.8 476.4,116.4 480.0,117.2" fill="none" stroke="#3d4788" stroke-width="1.05" stroke-linejoin="round"/>
<polyline points="416.5,91.0 417.5,85.0 418.5,80.2 419.3,77.5 420.2,72.0 421.3,69.0 422.4,64.9 423.6,64.0 424.6,57.0 425.5,61.4 426.8,56.1 428.0,53.0 429.0,49.9 430.4,43.7 431.3,41.9 432.1,37.5 433.0,43.7 433.9,44.6 435.1,35.3 435.7,47.2 436.6,39.3 437.5,45.5 438.3,32.6 439.2,41.0 440.1,39.3 441.4,42.8 442.3,49.0 443.6,56.1 445.0,64.9 446.0,72.0 447.4,80.2 449.2,92.9 451.1,103.7 452.9,111.0 454.7,114.6 457.4,116.4 470.0,117.2" fill="none" stroke="#dc2a35" stroke-width="1.4" stroke-linejoin="round"/>
<line x1="416.2" y1="27.3" x2="506.6" y2="27.3" stroke="#404040" stroke-width="1.2"/>
<line x1="506.6" y1="27.3" x2="506.6" y2="117.4" stroke="#404040" stroke-width="1.2"/>
<line x1="416.2" y1="26.7" x2="416.2" y2="118.10000000000001" stroke="#1c1c30" stroke-width="1.6"/>
<line x1="416.2" y1="117.4" x2="507.20000000000005" y2="117.4" stroke="#1c1c28" stroke-width="1.5"/>
<line x1="413.4" y1="31.25" x2="416.2" y2="31.25" stroke="#222" stroke-width="0.8"/>
<text x="411.9" y="32.85" font-size="4.5" text-anchor="end" font-weight="normal" fill="#222" stroke="#222" stroke-width="0.3" >100</text>
<line x1="413.4" y1="48.480000000000004" x2="416.2" y2="48.480000000000004" stroke="#222" stroke-width="0.8"/>
<text x="411.9" y="50.080000000000005" font-size="4.5" text-anchor="end" font-weight="normal" fill="#222" stroke="#222" stroke-width="0.3" >80</text>
<line x1="413.4" y1="65.71000000000001" x2="416.2" y2="65.71000000000001" stroke="#222" stroke-width="0.8"/>
<text x="411.9" y="67.31" font-size="4.5" text-anchor="end" font-weight="normal" fill="#222" stroke="#222" stroke-width="0.3" >60</text>
<line x1="413.4" y1="82.94" x2="416.2" y2="82.94" stroke="#222" stroke-width="0.8"/>
<text x="411.9" y="84.53999999999999" font-size="4.5" text-anchor="end" font-weight="normal" fill="#222" stroke="#222" stroke-width="0.3" >40</text>
<line x1="413.4" y1="100.17" x2="416.2" y2="100.17" stroke="#222" stroke-width="0.8"/>
<text x="411.9" y="101.77" font-size="4.5" text-anchor="end" font-weight="normal" fill="#222" stroke="#222" stroke-width="0.3" >20</text>
<line x1="413.4" y1="117.4" x2="416.2" y2="117.4" stroke="#222" stroke-width="0.8"/>
<text x="411.9" y="119.0" font-size="4.5" text-anchor="end" font-weight="normal" fill="#222" stroke="#222" stroke-width="0.3" >0</text>
<line x1="415.0" y1="117.4" x2="416.2" y2="117.4" stroke="#333" stroke-width="0.5"/>
<line x1="415.0" y1="113.0925" x2="416.2" y2="113.0925" stroke="#333" stroke-width="0.5"/>
<line x1="415.0" y1="108.78500000000001" x2="416.2" y2="108.78500000000001" stroke="#333" stroke-width="0.5"/>
<line x1="415.0" y1="104.4775" x2="416.2" y2="104.4775" stroke="#333" stroke-width="0.5"/>
<line x1="415.0" y1="100.17" x2="416.2" y2="100.17" stroke="#333" stroke-width="0.5"/>
<line x1="415.0" y1="95.86250000000001" x2="416.2" y2="95.86250000000001" stroke="#333" stroke-width="0.5"/>
<line x1="415.0" y1="91.555" x2="416.2" y2="91.555" stroke="#333" stroke-width="0.5"/>
<line x1="415.0" y1="87.2475" x2="416.2" y2="87.2475" stroke="#333" stroke-width="0.5"/>
<line x1="415.0" y1="82.94" x2="416.2" y2="82.94" stroke="#333" stroke-width="0.5"/>
<line x1="415.0" y1="78.63250000000001" x2="416.2" y2="78.63250000000001" stroke="#333" stroke-width="0.5"/>
<line x1="415.0" y1="74.325" x2="416.2" y2="74.325" stroke="#333" stroke-width="0.5"/>
<line x1="415.0" y1="70.0175" x2="416.2" y2="70.0175" stroke="#333" stroke-width="0.5"/>
<line x1="415.0" y1="65.71" x2="416.2" y2="65.71" stroke="#333" stroke-width="0.5"/>
<line x1="415.0" y1="61.4025" x2="416.2" y2="61.4025" stroke="#333" stroke-width="0.5"/>
<line x1="415.0" y1="57.095" x2="416.2" y2="57.095" stroke="#333" stroke-width="0.5"/>
<line x1="415.0" y1="52.78750000000001" x2="416.2" y2="52.78750000000001" stroke="#333" stroke-width="0.5"/>
<line x1="415.0" y1="48.480000000000004" x2="416.2" y2="48.480000000000004" stroke="#333" stroke-width="0.5"/>
<line x1="415.0" y1="44.1725" x2="416.2" y2="44.1725" stroke="#333" stroke-width="0.5"/>
<line x1="415.0" y1="39.86500000000001" x2="416.2" y2="39.86500000000001" stroke="#333" stroke-width="0.5"/>
<line x1="415.0" y1="35.557500000000005" x2="416.2" y2="35.557500000000005" stroke="#333" stroke-width="0.5"/>
<line x1="415.0" y1="31.25" x2="416.2" y2="31.25" stroke="#333" stroke-width="0.5"/>
<line x1="428.0" y1="117.4" x2="428.0" y2="119.60000000000001" stroke="#222" stroke-width="0.8"/>
<text x="428.0" y="126.4" font-size="4.7" text-anchor="middle" font-weight="normal" fill="#444" stroke="#444" stroke-width="0.2" >0</text>
<line x1="434.8" y1="117.4" x2="434.8" y2="119.60000000000001" stroke="#222" stroke-width="0.8"/>
<text x="434.8" y="126.4" font-size="4.7" text-anchor="middle" font-weight="normal" fill="#444" stroke="#444" stroke-width="0.2" >10<tspan dy="-1.5" font-size="3.2">2</tspan></text>
<line x1="456.0" y1="117.4" x2="456.0" y2="119.60000000000001" stroke="#222" stroke-width="0.8"/>
<text x="456.0" y="126.4" font-size="4.7" text-anchor="middle" font-weight="normal" fill="#444" stroke="#444" stroke-width="0.2" >10<tspan dy="-1.5" font-size="3.2">3</tspan></text>
<line x1="477.5" y1="117.4" x2="477.5" y2="119.60000000000001" stroke="#222" stroke-width="0.8"/>
<text x="477.5" y="126.4" font-size="4.7" text-anchor="middle" font-weight="normal" fill="#444" stroke="#444" stroke-width="0.2" >10<tspan dy="-1.5" font-size="3.2">4</tspan></text>
<line x1="499.0" y1="117.4" x2="499.0" y2="119.60000000000001" stroke="#222" stroke-width="0.8"/>
<text x="499.0" y="126.4" font-size="4.7" text-anchor="middle" font-weight="normal" fill="#444" stroke="#444" stroke-width="0.2" >10<tspan dy="-1.5" font-size="3.2">5</tspan></text>
<line x1="418.2" y1="117.4" x2="418.2" y2="119.0" stroke="#444" stroke-width="0.5"/>
<line x1="420.2090909090909" y1="117.4" x2="420.2090909090909" y2="119.0" stroke="#444" stroke-width="0.5"/>
<line x1="422.2181818181818" y1="117.4" x2="422.2181818181818" y2="119.0" stroke="#444" stroke-width="0.5"/>
<line x1="424.2272727272727" y1="117.4" x2="424.2272727272727" y2="119.0" stroke="#444" stroke-width="0.5"/>
<line x1="426.23636363636365" y1="117.4" x2="426.23636363636365" y2="119.0" stroke="#444" stroke-width="0.5"/>
<line x1="428.24545454545455" y1="117.4" x2="428.24545454545455" y2="119.0" stroke="#444" stroke-width="0.5"/>
<line x1="430.25454545454545" y1="117.4" x2="430.25454545454545" y2="119.0" stroke="#444" stroke-width="0.5"/>
<line x1="432.26363636363635" y1="117.4" x2="432.26363636363635" y2="119.0" stroke="#444" stroke-width="0.5"/>
<line x1="434.27272727272725" y1="117.4" x2="434.27272727272725" y2="119.0" stroke="#444" stroke-width="0.5"/>
<line x1="436.28181818181815" y1="117.4" x2="436.28181818181815" y2="119.0" stroke="#444" stroke-width="0.5"/>
<line x1="438.2909090909091" y1="117.4" x2="438.2909090909091" y2="119.0" stroke="#444" stroke-width="0.5"/>
<line x1="440.3" y1="117.4" x2="440.3" y2="119.0" stroke="#444" stroke-width="0.5"/>
<line x1="442.3090909090909" y1="117.4" x2="442.3090909090909" y2="119.0" stroke="#444" stroke-width="0.5"/>
<line x1="444.3181818181818" y1="117.4" x2="444.3181818181818" y2="119.0" stroke="#444" stroke-width="0.5"/>
<line x1="446.3272727272727" y1="117.4" x2="446.3272727272727" y2="119.0" stroke="#444" stroke-width="0.5"/>
<line x1="448.3363636363636" y1="117.4" x2="448.3363636363636" y2="119.0" stroke="#444" stroke-width="0.5"/>
<line x1="450.3454545454546" y1="117.4" x2="450.3454545454546" y2="119.0" stroke="#444" stroke-width="0.5"/>
<line x1="452.3545454545455" y1="117.4" x2="452.3545454545455" y2="119.0" stroke="#444" stroke-width="0.5"/>
<line x1="454.3636363636364" y1="117.4" x2="454.3636363636364" y2="119.0" stroke="#444" stroke-width="0.5"/>
<line x1="456.3727272727273" y1="117.4" x2="456.3727272727273" y2="119.0" stroke="#444" stroke-width="0.5"/>
<line x1="458.3818181818182" y1="117.4" x2="458.3818181818182" y2="119.0" stroke="#444" stroke-width="0.5"/>
<line x1="460.3909090909091" y1="117.4" x2="460.3909090909091" y2="119.0" stroke="#444" stroke-width="0.5"/>
<line x1="462.4" y1="117.4" x2="462.4" y2="119.0" stroke="#444" stroke-width="0.5"/>
<line x1="464.40909090909093" y1="117.4" x2="464.40909090909093" y2="119.0" stroke="#444" stroke-width="0.5"/>
<line x1="466.41818181818184" y1="117.4" x2="466.41818181818184" y2="119.0" stroke="#444" stroke-width="0.5"/>
<line x1="468.42727272727274" y1="117.4" x2="468.42727272727274" y2="119.0" stroke="#444" stroke-width="0.5"/>
<line x1="470.43636363636364" y1="117.4" x2="470.43636363636364" y2="119.0" stroke="#444" stroke-width="0.5"/>
<line x1="472.44545454545454" y1="117.4" x2="472.44545454545454" y2="119.0" stroke="#444" stroke-width="0.5"/>
<line x1="474.45454545454544" y1="117.4" x2="474.45454545454544" y2="119.0" stroke="#444" stroke-width="0.5"/>
<line x1="476.4636363636364" y1="117.4" x2="476.4636363636364" y2="119.0" stroke="#444" stroke-width="0.5"/>
<line x1="478.4727272727273" y1="117.4" x2="478.4727272727273" y2="119.0" stroke="#444" stroke-width="0.5"/>
<line x1="480.4818181818182" y1="117.4" x2="480.4818181818182" y2="119.0" stroke="#444" stroke-width="0.5"/>
<line x1="482.4909090909091" y1="117.4" x2="482.4909090909091" y2="119.0" stroke="#444" stroke-width="0.5"/>
<line x1="484.5" y1="117.4" x2="484.5" y2="119.0" stroke="#444" stroke-width="0.5"/>
<line x1="486.5090909090909" y1="117.4" x2="486.5090909090909" y2="119.0" stroke="#444" stroke-width="0.5"/>
<line x1="488.51818181818186" y1="117.4" x2="488.51818181818186" y2="119.0" stroke="#444" stroke-width="0.5"/>
<line x1="490.52727272727276" y1="117.4" x2="490.52727272727276" y2="119.0" stroke="#444" stroke-width="0.5"/>
<line x1="492.53636363636366" y1="117.4" x2="492.53636363636366" y2="119.0" stroke="#444" stroke-width="0.5"/>
<line x1="494.54545454545456" y1="117.4" x2="494.54545454545456" y2="119.0" stroke="#444" stroke-width="0.5"/>
<line x1="496.55454545454546" y1="117.4" x2="496.55454545454546" y2="119.0" stroke="#444" stroke-width="0.5"/>
<line x1="498.56363636363636" y1="117.4" x2="498.56363636363636" y2="119.0" stroke="#444" stroke-width="0.5"/>
<line x1="500.5727272727273" y1="117.4" x2="500.5727272727273" y2="119.0" stroke="#444" stroke-width="0.5"/>
<line x1="502.5818181818182" y1="117.4" x2="502.5818181818182" y2="119.0" stroke="#444" stroke-width="0.5"/>
<line x1="504.5909090909091" y1="117.4" x2="504.5909090909091" y2="119.0" stroke="#444" stroke-width="0.5"/>
<line x1="506.6" y1="117.4" x2="506.6" y2="119.0" stroke="#444" stroke-width="0.5"/>
<text x="398.9" y="72.5" font-size="8.6" text-anchor="middle" fill="#111" stroke="#111" stroke-width="0.45" transform="rotate(-90 398.9 72.5)" dy="3">% of Max</text>
<text x="460.5" y="134.5" font-size="9.3" text-anchor="middle" font-weight="normal" fill="#111" stroke="#111" stroke-width="0.5" textLength="29.5" lengthAdjust="spacingAndGlyphs" >IL1RAP</text>
<text x="401" y="154.0" font-size="12.0" text-anchor="start" font-weight="normal" fill="#1a1a1a" stroke="#1a1a1a" stroke-width="0.45" textLength="61" lengthAdjust="spacingAndGlyphs" >IL1RAP High</text>
<text x="401" y="168.4" font-size="12.0" text-anchor="start" font-weight="normal" fill="#1a1a1a" stroke="#1a1a1a" stroke-width="0.45" textLength="118.5" lengthAdjust="spacingAndGlyphs" >12/29 of patients (41 %)</text>
<line x1="83.3" y1="37.3" x2="95.8" y2="37.3" stroke="#dc2a35" stroke-width="2.4"/>
<line x1="83.3" y1="44.5" x2="95.8" y2="44.5" stroke="#1c1f7a" stroke-width="2.4"/>
<text x="99.8" y="39.3" font-size="5.6" text-anchor="start" font-weight="normal" fill="#222" stroke="#222" stroke-width="0.19" >IgG</text>
<text x="99.8" y="46.4" font-size="5.6" text-anchor="start" font-weight="normal" fill="#222" stroke="#222" stroke-width="0.19" textLength="18.3" lengthAdjust="spacingAndGlyphs" >IL1RAP</text>
<text x="-1" y="196.6" font-size="11.6" text-anchor="start" font-weight="bold" fill="#000" stroke="#000" stroke-width="0.394" >B</text>
<text x="83.5" y="195.2" font-size="7.6" text-anchor="middle" font-weight="normal" fill="#111" stroke="#111" stroke-width="0.18" textLength="26" lengthAdjust="spacingAndGlyphs" >IL1RAP</text>
<line x1="34.3" y1="206.2" x2="34.3" y2="294.2" stroke="#111" stroke-width="1.5"/>
<line x1="30.099999999999998" y1="206.2" x2="34.3" y2="206.2" stroke="#111" stroke-width="1.35"/>
<text x="29.7" y="208.648" font-size="6.8" text-anchor="end" font-weight="normal" fill="#111" stroke="#111" stroke-width="0.306" >1500</text>
<line x1="30.099999999999998" y1="235.53333333333333" x2="34.3" y2="235.53333333333333" stroke="#111" stroke-width="1.35"/>
<text x="29.7" y="237.98133333333334" font-size="6.8" text-anchor="end" font-weight="normal" fill="#111" stroke="#111" stroke-width="0.306" >1000</text>
<line x1="30.099999999999998" y1="264.8666666666667" x2="34.3" y2="264.8666666666667" stroke="#111" stroke-width="1.35"/>
<text x="29.7" y="267.31466666666665" font-size="6.8" text-anchor="end" font-weight="normal" fill="#111" stroke="#111" stroke-width="0.306" >500</text>
<line x1="30.099999999999998" y1="294.2" x2="34.3" y2="294.2" stroke="#111" stroke-width="1.35"/>
<text x="29.7" y="296.64799999999997" font-size="6.8" text-anchor="end" font-weight="normal" fill="#111" stroke="#111" stroke-width="0.306" >0</text>
<text x="5.5" y="249.6" font-size="8.4" text-anchor="middle" fill="#111" stroke="#111" stroke-width="0.286" textLength="81.5" lengthAdjust="spacingAndGlyphs" transform="rotate(-90 5.5 249.6)" dy="3.02">Geom. Mean Intensity</text>
<rect x="39.5" y="285.69" width="22.5" height="8.51" fill="#000"/>
<line x1="50.75" y1="285.6933333333333" x2="50.75" y2="285.1066666666667" stroke="#000" stroke-width="1.0"/>
<line x1="44.75" y1="285.1066666666667" x2="56.75" y2="285.1066666666667" stroke="#000" stroke-width="1.0"/>
<rect x="72" y="285.69" width="22.5" height="8.51" fill="#000"/>
<line x1="83.25" y1="285.6933333333333" x2="83.25" y2="284.52" stroke="#000" stroke-width="1.0"/>
<line x1="77.25" y1="284.52" x2="89.25" y2="284.52" stroke="#000" stroke-width="1.0"/>
<rect x="104.5" y="265.45" width="23.0" height="28.75" fill="#000"/>
<line x1="116.0" y1="265.4533333333333" x2="116.0" y2="262.81333333333333" stroke="#000" stroke-width="1.0"/>
<line x1="110.0" y1="262.81333333333333" x2="122.0" y2="262.81333333333333" stroke="#000" stroke-width="1.0"/>
<rect x="137.5" y="220.87" width="23.0" height="73.33" fill="#000"/>
<line x1="149.0" y1="220.86666666666667" x2="149.0" y2="216.46666666666664" stroke="#000" stroke-width="1.0"/>
<line x1="143.0" y1="216.46666666666664" x2="155.0" y2="216.46666666666664" stroke="#000" stroke-width="1.0"/>
<line x1="33.6" y1="294.2" x2="165.1" y2="294.2" stroke="#111" stroke-width="1.5"/>
<line x1="50.75" y1="294.2" x2="50.75" y2="297.4" stroke="#111" stroke-width="1.35"/>
<line x1="83.25" y1="294.2" x2="83.25" y2="297.4" stroke="#111" stroke-width="1.35"/>
<line x1="116" y1="294.2" x2="116" y2="297.4" stroke="#111" stroke-width="1.35"/>
<line x1="149" y1="294.2" x2="149" y2="297.4" stroke="#111" stroke-width="1.35"/>
<line x1="49.3" y1="209.5" x2="149.5" y2="209.5" stroke="#333" stroke-width="0.9"/>
<line x1="49.3" y1="209.5" x2="49.3" y2="212.7" stroke="#333" stroke-width="0.9"/>
<line x1="149.5" y1="209.5" x2="149.5" y2="212.7" stroke="#333" stroke-width="0.9"/>
<text x="98.7" y="221" font-size="7.0" text-anchor="middle" font-weight="normal" fill="#111" stroke="#111" stroke-width="0.238" textLength="30" lengthAdjust="spacingAndGlyphs" >p&lt;0.0001</text>
<line x1="51.3" y1="240.1" x2="114.5" y2="240.1" stroke="#333" stroke-width="0.9"/>
<line x1="51.3" y1="238.1" x2="51.3" y2="243.1" stroke="#333" stroke-width="0.9"/>
<line x1="114.5" y1="238.1" x2="114.5" y2="243.1" stroke="#333" stroke-width="0.9"/>
<text x="85.1" y="251.2" font-size="7.0" text-anchor="middle" font-weight="normal" fill="#111" stroke="#111" stroke-width="0.238" textLength="30" lengthAdjust="spacingAndGlyphs" >p=0.0005</text>
<text x="53.35" y="305.3" font-size="8.4" text-anchor="end" fill="#111" stroke="#111" stroke-width="0.286" transform="rotate(-45 53.35 305.3)">Normal BM/PB</text>
<text x="85.85" y="305.3" font-size="8.4" text-anchor="end" fill="#111" stroke="#111" stroke-width="0.286" transform="rotate(-45 85.85 305.3)">IL1RAP L</text>
<text x="118.6" y="305.3" font-size="8.4" text-anchor="end" fill="#111" stroke="#111" stroke-width="0.286" transform="rotate(-45 118.6 305.3)">IL1RAP I</text>
<text x="151.6" y="305.3" font-size="8.4" text-anchor="end" fill="#111" stroke="#111" stroke-width="0.286" transform="rotate(-45 151.6 305.3)">IL1RAP H</text>
<text x="177.3" y="197.2" font-size="11.6" text-anchor="start" font-weight="bold" fill="#000" stroke="#000" stroke-width="0.394" >C</text>
<text x="213.6" y="201.7" font-size="8.3" text-anchor="start" font-weight="normal" fill="#111" stroke="#111" stroke-width="0.2" textLength="103.8" lengthAdjust="spacingAndGlyphs" >IL1RAP within CD34+CD38+</text>
<line x1="209.5" y1="213.3" x2="209.5" y2="298.8" stroke="#111" stroke-width="1.5"/>
<line x1="205.3" y1="213.3" x2="209.5" y2="213.3" stroke="#111" stroke-width="1.35"/>
<text x="204.9" y="215.67600000000002" font-size="6.6" text-anchor="end" font-weight="normal" fill="#111" stroke="#111" stroke-width="0.297" >5000</text>
<line x1="205.3" y1="230.4" x2="209.5" y2="230.4" stroke="#111" stroke-width="1.35"/>
<text x="204.9" y="232.776" font-size="6.6" text-anchor="end" font-weight="normal" fill="#111" stroke="#111" stroke-width="0.297" >4000</text>
<line x1="205.3" y1="247.5" x2="209.5" y2="247.5" stroke="#111" stroke-width="1.35"/>
<text x="204.9" y="249.876" font-size="6.6" text-anchor="end" font-weight="normal" fill="#111" stroke="#111" stroke-width="0.297" >3000</text>
<line x1="205.3" y1="264.6" x2="209.5" y2="264.6" stroke="#111" stroke-width="1.35"/>
<text x="204.9" y="266.976" font-size="6.6" text-anchor="end" font-weight="normal" fill="#111" stroke="#111" stroke-width="0.297" >2000</text>
<line x1="205.3" y1="281.7" x2="209.5" y2="281.7" stroke="#111" stroke-width="1.35"/>
<text x="204.9" y="284.07599999999996" font-size="6.6" text-anchor="end" font-weight="normal" fill="#111" stroke="#111" stroke-width="0.297" >1000</text>
<line x1="205.3" y1="298.8" x2="209.5" y2="298.8" stroke="#111" stroke-width="1.35"/>
<text x="204.9" y="301.176" font-size="6.6" text-anchor="end" font-weight="normal" fill="#111" stroke="#111" stroke-width="0.297" >0</text>
<text x="180.6" y="255.6" font-size="8.4" text-anchor="middle" fill="#111" stroke="#111" stroke-width="0.286" textLength="80" lengthAdjust="spacingAndGlyphs" transform="rotate(-90 180.6 255.6)" dy="3.02">Geom. Mean Intensity</text>
<line x1="208.8" y1="299.4" x2="337.8" y2="299.4" stroke="#111" stroke-width="1.5"/>
<line x1="225" y1="299.4" x2="225" y2="302.59999999999997" stroke="#111" stroke-width="1.35"/>
<line x1="257.3" y1="299.4" x2="257.3" y2="302.59999999999997" stroke="#111" stroke-width="1.35"/>
<line x1="289.5" y1="299.4" x2="289.5" y2="302.59999999999997" stroke="#111" stroke-width="1.35"/>
<line x1="322" y1="299.4" x2="322" y2="302.59999999999997" stroke="#111" stroke-width="1.35"/>
<line x1="225" y1="213.8" x2="322.5" y2="213.8" stroke="#333" stroke-width="0.9"/>
<line x1="225" y1="211.8" x2="225" y2="216.8" stroke="#333" stroke-width="0.9"/>
<line x1="322.5" y1="211.8" x2="322.5" y2="216.8" stroke="#333" stroke-width="0.9"/>
<text x="273.1" y="227" font-size="7.0" text-anchor="middle" font-weight="normal" fill="#111" stroke="#111" stroke-width="0.238" textLength="28.8" lengthAdjust="spacingAndGlyphs" >p=0.0029</text>
<line x1="225" y1="233.8" x2="289.5" y2="233.8" stroke="#333" stroke-width="0.9"/>
<line x1="225" y1="231.8" x2="225" y2="236.8" stroke="#333" stroke-width="0.9"/>
<line x1="289.5" y1="231.8" x2="289.5" y2="236.8" stroke="#333" stroke-width="0.9"/>
<text x="260.5" y="247.5" font-size="7.0" text-anchor="middle" font-weight="normal" fill="#111" stroke="#111" stroke-width="0.238" textLength="25" lengthAdjust="spacingAndGlyphs" >p=0.047</text>
<circle cx="222.5" cy="284.5" r="1.9" fill="#000"/>
<circle cx="228" cy="284.5" r="1.9" fill="#000"/>
<circle cx="222.5" cy="290.7" r="1.9" fill="#000"/>
<circle cx="228" cy="290.7" r="1.9" fill="#000"/>
<line x1="215" y1="288.3" x2="236.3" y2="288.3" stroke="#000" stroke-width="1.1"/>
<rect x="255.70" y="260.70" width="3.6" height="3.6" fill="#000"/>
<rect x="255.20" y="282.00" width="3.6" height="3.6" fill="#000"/>
<rect x="258.20" y="288.20" width="3.6" height="3.6" fill="#000"/>
<rect x="253.20" y="294.40" width="3.6" height="3.6" fill="#000"/>
<line x1="246.3" y1="285.5" x2="268" y2="285.5" stroke="#000" stroke-width="1.1"/>
<polygon points="284.70,264.93 288.90,264.93 286.80,261.27" fill="#000"/>
<polygon points="290.10,267.43 294.30,267.43 292.20,263.77" fill="#000"/>
<polygon points="285.00,275.73 289.20,275.73 287.10,272.07" fill="#000"/>
<polygon points="290.10,274.43 294.30,274.43 292.20,270.77" fill="#000"/>
<polygon points="292.80,277.53 297.00,277.53 294.90,273.87" fill="#000"/>
<polygon points="282.00,279.83 286.20,279.83 284.10,276.17" fill="#000"/>
<polygon points="287.70,281.93 291.90,281.93 289.80,278.27" fill="#000"/>
<polygon points="279.70,288.93 283.90,288.93 281.80,285.27" fill="#000"/>
<polygon points="284.70,291.93 288.90,291.93 286.80,288.27" fill="#000"/>
<polygon points="290.10,288.93 294.30,288.93 292.20,285.27" fill="#000"/>
<polygon points="295.50,288.63 299.70,288.63 297.60,284.97" fill="#000"/>
<line x1="279.2" y1="278" x2="300.7" y2="278" stroke="#000" stroke-width="1.1"/>
<polygon points="319.90,230.77 324.10,230.77 322.00,234.43" fill="#000"/>
<polygon points="319.90,240.47 324.10,240.47 322.00,244.13" fill="#000"/>
<polygon points="317.40,248.77 321.60,248.77 319.50,252.43" fill="#000"/>
<polygon points="322.40,249.37 326.60,249.37 324.50,253.03" fill="#000"/>
<polygon points="319.90,259.07 324.10,259.07 322.00,262.73" fill="#000"/>
<polygon points="314.60,266.67 318.80,266.67 316.70,270.33" fill="#000"/>
<polygon points="319.90,267.17 324.10,267.17 322.00,270.83" fill="#000"/>
<polygon points="325.00,264.37 329.20,264.37 327.10,268.03" fill="#000"/>
<polygon points="311.80,271.37 316.00,271.37 313.90,275.03" fill="#000"/>
<polygon points="317.40,273.87 321.60,273.87 319.50,277.53" fill="#000"/>
<polygon points="322.40,273.57 326.60,273.57 324.50,277.23" fill="#000"/>
<polygon points="327.40,271.17 331.60,271.17 329.50,274.83" fill="#000"/>
<line x1="311" y1="261.5" x2="332.6" y2="261.5" stroke="#000" stroke-width="1.1"/>
<text x="227.6" y="309.9" font-size="8.4" text-anchor="end" fill="#111" stroke="#111" stroke-width="0.286" transform="rotate(-45 227.6 309.9)">Normal BM</text>
<text x="259.90000000000003" y="309.9" font-size="8.4" text-anchor="end" fill="#111" stroke="#111" stroke-width="0.286" transform="rotate(-45 259.90000000000003 309.9)">IL1RAP L</text>
<text x="292.1" y="309.9" font-size="8.4" text-anchor="end" fill="#111" stroke="#111" stroke-width="0.286" transform="rotate(-45 292.1 309.9)">IL1RAP I</text>
<text x="324.6" y="309.9" font-size="8.4" text-anchor="end" fill="#111" stroke="#111" stroke-width="0.286" transform="rotate(-45 324.6 309.9)">IL1RAP H</text>
<text x="356" y="197.2" font-size="11.6" text-anchor="start" font-weight="bold" fill="#000" stroke="#000" stroke-width="0.394" >D</text>
<text x="392.8" y="201.7" font-size="8.3" text-anchor="start" font-weight="normal" fill="#111" stroke="#111" stroke-width="0.2" textLength="102.3" lengthAdjust="spacingAndGlyphs" >IL1RAP within CD34+CD38-</text>
<line x1="389.0" y1="213.3" x2="389.0" y2="299.6" stroke="#111" stroke-width="1.5"/>
<line x1="384.8" y1="213.3" x2="389.0" y2="213.3" stroke="#111" stroke-width="1.35"/>
<text x="384.40000000000003" y="215.67600000000002" font-size="6.6" text-anchor="end" font-weight="normal" fill="#111" stroke="#111" stroke-width="0.297" >2000</text>
<line x1="384.8" y1="232.35000000000002" x2="389.0" y2="232.35000000000002" stroke="#111" stroke-width="1.35"/>
<text x="384.40000000000003" y="234.72600000000003" font-size="6.6" text-anchor="end" font-weight="normal" fill="#111" stroke="#111" stroke-width="0.297" >1500</text>
<line x1="384.8" y1="251.4" x2="389.0" y2="251.4" stroke="#111" stroke-width="1.35"/>
<text x="384.40000000000003" y="253.776" font-size="6.6" text-anchor="end" font-weight="normal" fill="#111" stroke="#111" stroke-width="0.297" >1000</text>
<line x1="384.8" y1="270.45" x2="389.0" y2="270.45" stroke="#111" stroke-width="1.35"/>
<text x="384.40000000000003" y="272.82599999999996" font-size="6.6" text-anchor="end" font-weight="normal" fill="#111" stroke="#111" stroke-width="0.297" >500</text>
<line x1="384.8" y1="289.5" x2="389.0" y2="289.5" stroke="#111" stroke-width="1.35"/>
<text x="384.40000000000003" y="291.876" font-size="6.6" text-anchor="end" font-weight="normal" fill="#111" stroke="#111" stroke-width="0.297" >0</text>
<text x="359.6" y="255.6" font-size="8.4" text-anchor="middle" fill="#111" stroke="#111" stroke-width="0.286" textLength="80" lengthAdjust="spacingAndGlyphs" transform="rotate(-90 359.6 255.6)" dy="3.02">Geom. Mean Intensity</text>
<line x1="388.3" y1="299.5" x2="517.1" y2="299.5" stroke="#111" stroke-width="1.5"/>
<line x1="404" y1="299.5" x2="404" y2="302.7" stroke="#111" stroke-width="1.35"/>
<line x1="437" y1="299.5" x2="437" y2="302.7" stroke="#111" stroke-width="1.35"/>
<line x1="469" y1="299.5" x2="469" y2="302.7" stroke="#111" stroke-width="1.35"/>
<line x1="501.5" y1="299.5" x2="501.5" y2="302.7" stroke="#111" stroke-width="1.35"/>
<circle cx="398.8" cy="284.5" r="1.9" fill="#000"/>
<circle cx="404.5" cy="282.5" r="1.9" fill="#000"/>
<circle cx="405" cy="289.2" r="1.9" fill="#000"/>
<circle cx="410" cy="285.5" r="1.9" fill="#000"/>
<line x1="393.8" y1="285.8" x2="415" y2="285.8" stroke="#000" stroke-width="1.1"/>
<rect x="435.20" y="247.00" width="3.6" height="3.6" fill="#000"/>
<rect x="435.20" y="267.00" width="3.6" height="3.6" fill="#000"/>
<rect x="434.50" y="280.70" width="3.6" height="3.6" fill="#000"/>
<rect x="435.20" y="288.20" width="3.6" height="3.6" fill="#000"/>
<rect x="437.70" y="292.00" width="3.6" height="3.6" fill="#000"/>
<rect x="432.00" y="295.20" width="3.6" height="3.6" fill="#000"/>
<line x1="426.3" y1="280.5" x2="447.5" y2="280.5" stroke="#000" stroke-width="1.1"/>
<polygon points="466.60,228.73 470.80,228.73 468.70,225.07" fill="#000"/>
<polygon points="466.60,245.03 470.80,245.03 468.70,241.37" fill="#000"/>
<polygon points="467.00,254.33 471.20,254.33 469.10,250.67" fill="#000"/>
<polygon points="469.70,261.03 473.90,261.03 471.80,257.37" fill="#000"/>
<polygon points="464.30,265.13 468.50,265.13 466.40,261.47" fill="#000"/>
<polygon points="464.30,270.03 468.50,270.03 466.40,266.37" fill="#000"/>
<polygon points="469.70,271.83 473.90,271.83 471.80,268.17" fill="#000"/>
<polygon points="467.00,284.03 471.20,284.03 469.10,280.37" fill="#000"/>
<polygon points="463.70,292.33 467.90,292.33 465.80,288.67" fill="#000"/>
<polygon points="469.70,292.33 473.90,292.33 471.80,288.67" fill="#000"/>
<polygon points="466.60,299.73 470.80,299.73 468.70,296.07" fill="#000"/>
<line x1="458.4" y1="267.5" x2="479.8" y2="267.5" stroke="#000" stroke-width="1.1"/>
<polygon points="499.40,232.37 503.60,232.37 501.50,236.03" fill="#000"/>
<polygon points="491.10,238.87 495.30,238.87 493.20,242.53" fill="#000"/>
<polygon points="496.00,241.77 500.20,241.77 498.10,245.43" fill="#000"/>
<polygon points="500.90,238.87 505.10,238.87 503.00,242.53" fill="#000"/>
<polygon points="506.70,238.87 510.90,238.87 508.80,242.53" fill="#000"/>
<polygon points="499.40,253.57 503.60,253.57 501.50,257.23" fill="#000"/>
<polygon points="499.40,261.17 503.60,261.17 501.50,264.83" fill="#000"/>
<polygon points="493.80,282.37 498.00,282.37 495.90,286.03" fill="#000"/>
<polygon points="498.70,282.37 502.90,282.37 500.80,286.03" fill="#000"/>
<polygon points="503.80,282.37 508.00,282.37 505.90,286.03" fill="#000"/>
<polygon points="496.50,287.97 500.70,287.97 498.60,291.63" fill="#000"/>
<polygon points="501.60,287.57 505.80,287.57 503.70,291.23" fill="#000"/>
<line x1="490.3" y1="263" x2="512" y2="263" stroke="#000" stroke-width="1.1"/>
<text x="406.6" y="309.9" font-size="8.4" text-anchor="end" fill="#111" stroke="#111" stroke-width="0.286" transform="rotate(-45 406.6 309.9)">Normal BM</text>
<text x="439.6" y="309.9" font-size="8.4" text-anchor="end" fill="#111" stroke="#111" stroke-width="0.286" transform="rotate(-45 439.6 309.9)">IL1RAP L</text>
<text x="471.6" y="309.9" font-size="8.4" text-anchor="end" fill="#111" stroke="#111" stroke-width="0.286" transform="rotate(-45 471.6 309.9)">IL1RAP I</text>
<text x="504.1" y="309.9" font-size="8.4" text-anchor="end" fill="#111" stroke="#111" stroke-width="0.286" transform="rotate(-45 504.1 309.9)">IL1RAP H</text>
<text x="-0.5" y="369.5" font-size="11.8" text-anchor="start" font-weight="bold" fill="#000" stroke="#000" stroke-width="0.401" >E</text>
<text x="89" y="377.4" font-size="8.3" text-anchor="middle" font-weight="normal" fill="#111" stroke="#111" stroke-width="0.282" textLength="45.8" lengthAdjust="spacingAndGlyphs" >ADCC MNC</text>
<line x1="28.8" y1="392.1" x2="28.8" y2="481.4" stroke="#111" stroke-width="1.6"/>
<line x1="25.8" y1="392.1" x2="28.8" y2="392.1" stroke="#111" stroke-width="1.4400000000000002"/>
<text x="25.400000000000002" y="395.26800000000003" font-size="8.8" text-anchor="end" font-weight="normal" fill="#111" stroke="#111" stroke-width="0.396" >40</text>
<line x1="25.8" y1="414.425" x2="28.8" y2="414.425" stroke="#111" stroke-width="1.4400000000000002"/>
<text x="25.400000000000002" y="417.593" font-size="8.8" text-anchor="end" font-weight="normal" fill="#111" stroke="#111" stroke-width="0.396" >30</text>
<line x1="25.8" y1="436.75" x2="28.8" y2="436.75" stroke="#111" stroke-width="1.4400000000000002"/>
<text x="25.400000000000002" y="439.918" font-size="8.8" text-anchor="end" font-weight="normal" fill="#111" stroke="#111" stroke-width="0.396" >20</text>
<line x1="25.8" y1="459.075" x2="28.8" y2="459.075" stroke="#111" stroke-width="1.4400000000000002"/>
<text x="25.400000000000002" y="462.243" font-size="8.8" text-anchor="end" font-weight="normal" fill="#111" stroke="#111" stroke-width="0.396" >10</text>
<line x1="25.8" y1="481.4" x2="28.8" y2="481.4" stroke="#111" stroke-width="1.4400000000000002"/>
<text x="25.400000000000002" y="484.568" font-size="8.8" text-anchor="end" font-weight="normal" fill="#111" stroke="#111" stroke-width="0.396" >0</text>
<text x="4.0" y="434.5" font-size="8.5" text-anchor="middle" fill="#111" stroke="#111" stroke-width="0.289" textLength="47" lengthAdjust="spacingAndGlyphs" transform="rotate(-90 4.0 434.5)" dy="3.06">% dead cells</text>
<line x1="28.0" y1="481.4" x2="163.3" y2="481.4" stroke="#111" stroke-width="1.6"/>
<line x1="51.3" y1="481.4" x2="51.3" y2="484.4" stroke="#111" stroke-width="1.4400000000000002"/>
<line x1="96" y1="481.4" x2="96" y2="484.4" stroke="#111" stroke-width="1.4400000000000002"/>
<line x1="141" y1="481.4" x2="141" y2="484.4" stroke="#111" stroke-width="1.4400000000000002"/>
<circle cx="51.3" cy="413.75525000000005" r="1.6" fill="#000"/>
<line x1="36.3" y1="413.75525000000005" x2="66.3" y2="413.75525000000005" stroke="#000" stroke-width="1.1"/>
<circle cx="88" cy="479.3" r="1.8" fill="#fff" stroke="#000" stroke-width="1.0"/>
<circle cx="93" cy="481.8" r="1.8" fill="#fff" stroke="#000" stroke-width="1.0"/>
<circle cx="98.8" cy="479.3" r="1.8" fill="#fff" stroke="#000" stroke-width="1.0"/>
<circle cx="104.3" cy="479.3" r="1.8" fill="#fff" stroke="#000" stroke-width="1.0"/>
<line x1="81.3" y1="480.2" x2="111.3" y2="480.2" stroke="#000" stroke-width="1.1"/>
<rect x="139.10" y="438.50" width="3.8" height="3.8" fill="#000"/>
<rect x="139.10" y="455.40" width="3.8" height="3.8" fill="#000"/>
<rect x="133.70" y="466.60" width="3.8" height="3.8" fill="#000"/>
<rect x="139.10" y="467.40" width="3.8" height="3.8" fill="#000"/>
<rect x="144.30" y="465.20" width="3.8" height="3.8" fill="#000"/>
<rect x="133.70" y="475.20" width="3.8" height="3.8" fill="#000"/>
<rect x="139.10" y="478.10" width="3.8" height="3.8" fill="#000"/>
<rect x="144.30" y="477.00" width="3.8" height="3.8" fill="#000"/>
<line x1="126.1" y1="467.4" x2="155.7" y2="467.4" stroke="#000" stroke-width="1.1"/>
<text x="54.099999999999994" y="491.7" font-size="8.8" text-anchor="end" fill="#111" stroke="#111" stroke-width="0.299" transform="rotate(-45 54.099999999999994 491.7)">KU812</text>
<text x="98.8" y="491.7" font-size="8.8" text-anchor="end" fill="#111" stroke="#111" stroke-width="0.299" transform="rotate(-45 98.8 491.7)">NBM</text>
<text x="143.8" y="491.7" font-size="8.8" text-anchor="end" fill="#111" stroke="#111" stroke-width="0.299" transform="rotate(-45 143.8 491.7)">AML</text>
<text x="171.6" y="369.6" font-size="11.6" text-anchor="start" font-weight="bold" fill="#000" stroke="#000" stroke-width="0.394" >F</text>
<text x="221" y="377.4" font-size="8.3" text-anchor="start" font-weight="normal" fill="#111" stroke="#111" stroke-width="0.282" textLength="80.5" lengthAdjust="spacingAndGlyphs" >ADCC CD34CD38+/-</text>
<line x1="199.9" y1="392.6" x2="199.9" y2="482.3" stroke="#111" stroke-width="1.6"/>
<line x1="196.9" y1="392.6" x2="199.9" y2="392.6" stroke="#111" stroke-width="1.4400000000000002"/>
<text x="196.5" y="395.76800000000003" font-size="8.8" text-anchor="end" font-weight="normal" fill="#111" stroke="#111" stroke-width="0.396" >60</text>
<line x1="196.9" y1="420.4666666666667" x2="199.9" y2="420.4666666666667" stroke="#111" stroke-width="1.4400000000000002"/>
<text x="196.5" y="423.6346666666667" font-size="8.8" text-anchor="end" font-weight="normal" fill="#111" stroke="#111" stroke-width="0.396" >40</text>
<line x1="196.9" y1="448.3333333333333" x2="199.9" y2="448.3333333333333" stroke="#111" stroke-width="1.4400000000000002"/>
<text x="196.5" y="451.5013333333333" font-size="8.8" text-anchor="end" font-weight="normal" fill="#111" stroke="#111" stroke-width="0.396" >20</text>
<line x1="196.9" y1="476.2" x2="199.9" y2="476.2" stroke="#111" stroke-width="1.4400000000000002"/>
<text x="196.5" y="479.368" font-size="8.8" text-anchor="end" font-weight="normal" fill="#111" stroke="#111" stroke-width="0.396" >0</text>
<text x="175.5" y="434.7" font-size="8.5" text-anchor="middle" fill="#111" stroke="#111" stroke-width="0.289" textLength="47.4" lengthAdjust="spacingAndGlyphs" transform="rotate(-90 175.5 434.7)" dy="3.06">% dead cells</text>
<line x1="199.1" y1="482.3" x2="335.7" y2="482.3" stroke="#111" stroke-width="1.6"/>
<line x1="210" y1="482.3" x2="210" y2="485.3" stroke="#111" stroke-width="1.4400000000000002"/>
<line x1="248" y1="482.3" x2="248" y2="485.3" stroke="#111" stroke-width="1.4400000000000002"/>
<line x1="268.2" y1="482.3" x2="268.2" y2="485.3" stroke="#111" stroke-width="1.4400000000000002"/>
<line x1="306.2" y1="482.3" x2="306.2" y2="485.3" stroke="#111" stroke-width="1.4400000000000002"/>
<line x1="326.7" y1="482.3" x2="326.7" y2="485.3" stroke="#111" stroke-width="1.4400000000000002"/>
<circle cx="210" cy="432" r="1.6" fill="#000"/>
<line x1="203.8" y1="432" x2="217" y2="432" stroke="#000" stroke-width="1.1"/>
<circle cx="245.8" cy="462.2" r="1.8" fill="#fff" stroke="#000" stroke-width="1.0"/>
<circle cx="251.7" cy="465.3" r="1.8" fill="#fff" stroke="#000" stroke-width="1.0"/>
<circle cx="242.8" cy="470.2" r="1.8" fill="#fff" stroke="#000" stroke-width="1.0"/>
<circle cx="247.5" cy="470.2" r="1.8" fill="#fff" stroke="#000" stroke-width="1.0"/>
<circle cx="251.7" cy="472.3" r="1.8" fill="#fff" stroke="#000" stroke-width="1.0"/>
<circle cx="245.8" cy="474.4" r="1.8" fill="#fff" stroke="#000" stroke-width="1.0"/>
<line x1="241.2" y1="469.1" x2="254.9" y2="469.1" stroke="#000" stroke-width="1.1"/>
<rect x="266.40" y="433.50" width="3.6" height="3.6" fill="#000"/>
<rect x="269.00" y="457.80" width="3.6" height="3.6" fill="#000"/>
<rect x="266.40" y="461.60" width="3.6" height="3.6" fill="#000"/>
<rect x="263.70" y="459.20" width="3.6" height="3.6" fill="#000"/>
<rect x="266.40" y="474.70" width="3.6" height="3.6" fill="#000"/>
<line x1="262.3" y1="459.6" x2="274.6" y2="459.6" stroke="#000" stroke-width="1.1"/>
<circle cx="302.5" cy="473.5" r="1.8" fill="#fff" stroke="#000" stroke-width="1.0"/>
<circle cx="305.5" cy="471.5" r="1.8" fill="#fff" stroke="#000" stroke-width="1.0"/>
<circle cx="308" cy="474.5" r="1.8" fill="#fff" stroke="#000" stroke-width="1.0"/>
<circle cx="310.5" cy="473.5" r="1.8" fill="#fff" stroke="#000" stroke-width="1.0"/>
<circle cx="305.5" cy="475.5" r="1.8" fill="#fff" stroke="#000" stroke-width="1.0"/>
<line x1="299.3" y1="474.2" x2="313" y2="474.2" stroke="#000" stroke-width="1.1"/>
<rect x="324.90" y="401.10" width="3.6" height="3.6" fill="#000"/>
<rect x="324.90" y="445.30" width="3.6" height="3.6" fill="#000"/>
<rect x="321.80" y="457.60" width="3.6" height="3.6" fill="#000"/>
<rect x="327.30" y="459.00" width="3.6" height="3.6" fill="#000"/>
<rect x="324.90" y="467.20" width="3.6" height="3.6" fill="#000"/>
<line x1="319.9" y1="447.5" x2="333.2" y2="447.5" stroke="#000" stroke-width="1.1"/>
<line x1="305.6" y1="388.6" x2="326" y2="388.6" stroke="#111" stroke-width="1.1"/>
<line x1="305.6" y1="386.1" x2="305.6" y2="391.3" stroke="#111" stroke-width="1.1"/>
<line x1="326" y1="386.1" x2="326" y2="391.3" stroke="#111" stroke-width="1.1"/>
<text x="317.2" y="398.2" font-size="7.0" text-anchor="middle" font-weight="normal" fill="#111" stroke="#111" stroke-width="0.238" textLength="31.3" lengthAdjust="spacingAndGlyphs" >p=0.0387</text>
<text x="212.8" y="492.7" font-size="8.8" text-anchor="end" fill="#111" stroke="#111" stroke-width="0.299" transform="rotate(-45 212.8 492.7)">KU812</text>
<text x="250.8" y="492.7" font-size="8.8" text-anchor="end" fill="#111" stroke="#111" stroke-width="0.299" transform="rotate(-45 250.8 492.7)">NBM</text>
<text x="271.0" y="492.7" font-size="8.8" text-anchor="end" fill="#111" stroke="#111" stroke-width="0.299" transform="rotate(-45 271.0 492.7)">AML</text>
<text x="309.0" y="492.7" font-size="8.8" text-anchor="end" fill="#111" stroke="#111" stroke-width="0.299" transform="rotate(-45 309.0 492.7)">NBM</text>
<text x="329.5" y="492.7" font-size="8.8" text-anchor="end" fill="#111" stroke="#111" stroke-width="0.299" transform="rotate(-45 329.5 492.7)">AML</text>
<line x1="244" y1="517.7" x2="276" y2="517.7" stroke="#000" stroke-width="1.4"/>
<line x1="302.5" y1="517.7" x2="334.5" y2="517.7" stroke="#000" stroke-width="1.4"/>
<text x="259.5" y="529.3" font-size="6.6" text-anchor="middle" font-weight="normal" fill="#111" stroke="#111" stroke-width="0.224" textLength="22.5" lengthAdjust="spacingAndGlyphs" >CD34+</text>
<text x="259.5" y="537.5" font-size="6.6" text-anchor="middle" font-weight="normal" fill="#111" stroke="#111" stroke-width="0.224" textLength="22.5" lengthAdjust="spacingAndGlyphs" >CD38+</text>
<text x="319" y="529.3" font-size="6.6" text-anchor="middle" font-weight="normal" fill="#111" stroke="#111" stroke-width="0.224" textLength="22.5" lengthAdjust="spacingAndGlyphs" >CD34+</text>
<text x="319" y="537.5" font-size="6.6" text-anchor="middle" font-weight="normal" fill="#111" stroke="#111" stroke-width="0.224" textLength="22.5" lengthAdjust="spacingAndGlyphs" >CD38-</text>
<text x="344.4" y="369.4" font-size="12.2" text-anchor="start" font-weight="bold" fill="#000" stroke="#000" stroke-width="0.415" >G</text>
<text x="389.6" y="377.7" font-size="8.3" text-anchor="start" font-weight="normal" fill="#111" stroke="#111" stroke-width="0.282" textLength="124.2" lengthAdjust="spacingAndGlyphs" >In vivo repopulation in NSG mice</text>
<line x1="384.6" y1="391.3" x2="384.6" y2="481.5" stroke="#111" stroke-width="1.6"/>
<line x1="381.6" y1="391.3" x2="384.6" y2="391.3" stroke="#111" stroke-width="1.4400000000000002"/>
<text x="381.20000000000005" y="394.75600000000003" font-size="9.6" text-anchor="end" font-weight="normal" fill="#111" stroke="#111" stroke-width="0.432" >0.3</text>
<line x1="381.6" y1="421.3666666666667" x2="384.6" y2="421.3666666666667" stroke="#111" stroke-width="1.4400000000000002"/>
<text x="381.20000000000005" y="424.8226666666667" font-size="9.6" text-anchor="end" font-weight="normal" fill="#111" stroke="#111" stroke-width="0.432" >0.2</text>
<line x1="381.6" y1="451.43333333333334" x2="384.6" y2="451.43333333333334" stroke="#111" stroke-width="1.4400000000000002"/>
<text x="381.20000000000005" y="454.88933333333335" font-size="9.6" text-anchor="end" font-weight="normal" fill="#111" stroke="#111" stroke-width="0.432" >0.1</text>
<line x1="381.6" y1="481.5" x2="384.6" y2="481.5" stroke="#111" stroke-width="1.4400000000000002"/>
<text x="381.20000000000005" y="484.956" font-size="9.6" text-anchor="end" font-weight="normal" fill="#111" stroke="#111" stroke-width="0.432" >0.0</text>
<text x="356.4" y="434.1" font-size="10.4" text-anchor="middle" fill="#111" stroke="#111" stroke-width="0.354" textLength="121" lengthAdjust="spacingAndGlyphs" transform="rotate(-90 356.4 434.1)" dy="3.74">% human cells in mouse BM</text>
<line x1="383.9" y1="481.2" x2="518.5" y2="481.2" stroke="#111" stroke-width="1.6"/>
<line x1="418" y1="481.2" x2="418" y2="484.2" stroke="#111" stroke-width="1.4400000000000002"/>
<line x1="485" y1="481.2" x2="485" y2="484.2" stroke="#111" stroke-width="1.4400000000000002"/>
<text x="418.1" y="493.6" font-size="9.7" text-anchor="middle" font-weight="normal" fill="#111" stroke="#111" stroke-width="0.33" textLength="31.2" lengthAdjust="spacingAndGlyphs" >Isotype</text>
<text x="485.1" y="493.6" font-size="9.7" text-anchor="middle" font-weight="normal" fill="#111" stroke="#111" stroke-width="0.33" textLength="18.9" lengthAdjust="spacingAndGlyphs" >81.2</text>
<line x1="416.8" y1="396.3" x2="484.3" y2="396.3" stroke="#111" stroke-width="1.2"/>
<line x1="416.8" y1="393.7" x2="416.8" y2="398.90000000000003" stroke="#111" stroke-width="1.2"/>
<line x1="484.3" y1="393.7" x2="484.3" y2="398.90000000000003" stroke="#111" stroke-width="1.2"/>
<text x="429.8" y="410.3" font-size="7.4" text-anchor="middle" font-weight="normal" fill="#111" stroke="#111" stroke-width="0.252" textLength="30.1" lengthAdjust="spacingAndGlyphs" >p&lt;0.0001</text>
<circle cx="418.1" cy="416.3" r="1.8" fill="#000"/>
<circle cx="418.1" cy="425.4" r="1.8" fill="#000"/>
<circle cx="410.3" cy="436.6" r="1.8" fill="#000"/>
<circle cx="415.9" cy="440.4" r="1.8" fill="#000"/>
<circle cx="420.4" cy="440.4" r="1.8" fill="#000"/>
<circle cx="427" cy="439.3" r="1.8" fill="#000"/>
<circle cx="418.1" cy="447.8" r="1.8" fill="#000"/>
<line x1="395.8" y1="435.5" x2="440.4" y2="435.5" stroke="#000" stroke-width="1.2"/>
<line x1="407" y1="431" x2="429.3" y2="431" stroke="#000" stroke-width="1.1"/>
<line x1="407" y1="439.7" x2="429.3" y2="439.7" stroke="#000" stroke-width="1.1"/>
<line x1="418" y1="431" x2="418" y2="439.7" stroke="#000" stroke-width="1.1"/>
<rect x="483.30" y="460.80" width="3.6" height="3.6" fill="#000"/>
<rect x="477.90" y="466.70" width="3.6" height="3.6" fill="#000"/>
<rect x="488.20" y="466.70" width="3.6" height="3.6" fill="#000"/>
<rect x="477.90" y="472.80" width="3.6" height="3.6" fill="#000"/>
<rect x="483.30" y="471.30" width="3.6" height="3.6" fill="#000"/>
<rect x="483.30" y="476.70" width="3.6" height="3.6" fill="#000"/>
<rect x="488.20" y="476.70" width="3.6" height="3.6" fill="#000"/>
<line x1="463" y1="472.3" x2="507.7" y2="472.3" stroke="#000" stroke-width="1.2"/>
<line x1="473.8" y1="470" x2="496.2" y2="470" stroke="#000" stroke-width="1.1"/>
<line x1="473.8" y1="474.3" x2="496.2" y2="474.3" stroke="#000" stroke-width="1.1"/>
</svg>
</body></html>
